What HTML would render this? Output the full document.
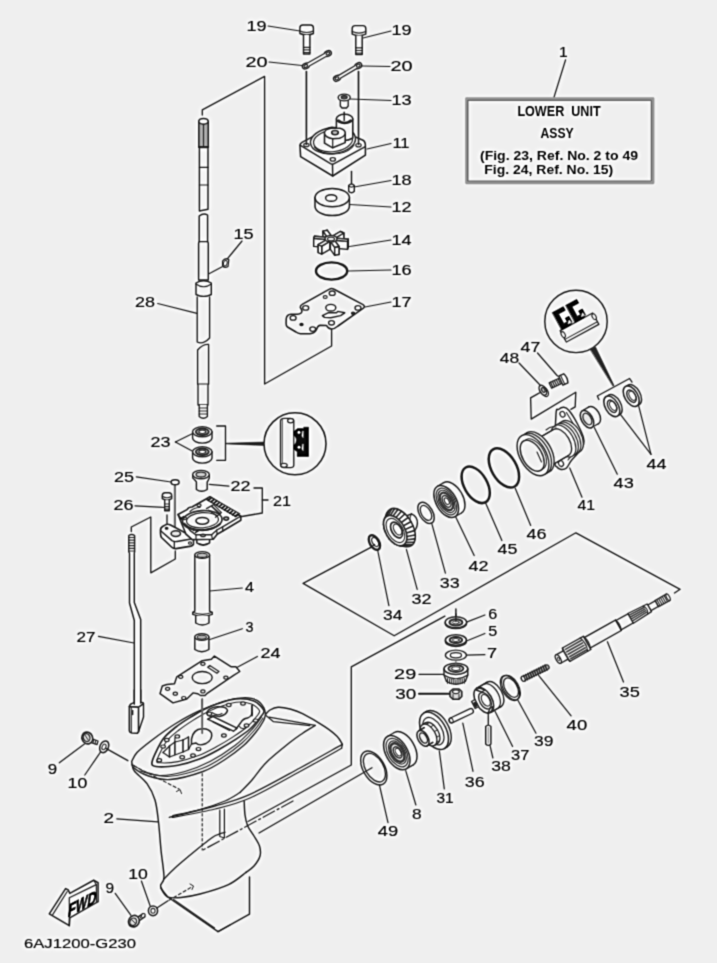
<!DOCTYPE html>
<html><head><meta charset="utf-8"><title>Lower Unit Assy</title>
<style>
html,body{margin:0;padding:0;background:#efefef;}
body{width:717px;height:963px;overflow:hidden;}
svg{display:block;font-family:"Liberation Sans",sans-serif;}
</style></head><body>
<svg width="717" height="963" viewBox="0 0 717 963" stroke-linecap="round" stroke-linejoin="round">
<defs><filter id="soft" filterUnits="userSpaceOnUse" x="-30" y="-30" width="777" height="1023" color-interpolation-filters="sRGB">
<feConvolveMatrix in="SourceGraphic" order="3" kernelMatrix="0.090 0.3 0.090 0.3 1 0.3 0.090 0.3 0.090" divisor="2.560" edgeMode="duplicate" preserveAlpha="true" result="b1"/>
<feGaussianBlur in="b1" stdDeviation="2" result="b2"/>
<feComposite in="b1" in2="b2" operator="arithmetic" k1="0" k2="1.35" k3="-0.35" k4="0"/>
</filter></defs>
<g filter="url(#soft)">
<rect x="-30" y="-30" width="777" height="1023" fill="#efefef"/>
<!-- labels -->
<text x="246.4" y="31" font-size="14" textLength="20.1" lengthAdjust="spacingAndGlyphs" fill="#222" stroke="#222" stroke-width="0.15">19</text>
<text x="391.4" y="35" font-size="14" textLength="20.1" lengthAdjust="spacingAndGlyphs" fill="#222" stroke="#222" stroke-width="0.15">19</text>
<text x="245.4" y="66.5" font-size="14" textLength="22.1" lengthAdjust="spacingAndGlyphs" fill="#222" stroke="#222" stroke-width="0.15">20</text>
<text x="390.4" y="71" font-size="14" textLength="22.1" lengthAdjust="spacingAndGlyphs" fill="#222" stroke="#222" stroke-width="0.15">20</text>
<text x="391.4" y="105" font-size="14" textLength="20.1" lengthAdjust="spacingAndGlyphs" fill="#222" stroke="#222" stroke-width="0.15">13</text>
<text x="392.4" y="148" font-size="14" textLength="17.2" lengthAdjust="spacingAndGlyphs" fill="#222" stroke="#222" stroke-width="0.15">11</text>
<text x="391.4" y="185" font-size="14" textLength="20.1" lengthAdjust="spacingAndGlyphs" fill="#222" stroke="#222" stroke-width="0.15">18</text>
<text x="391.4" y="211.5" font-size="14" textLength="20.1" lengthAdjust="spacingAndGlyphs" fill="#222" stroke="#222" stroke-width="0.15">12</text>
<text x="391.4" y="245" font-size="14" textLength="20.1" lengthAdjust="spacingAndGlyphs" fill="#222" stroke="#222" stroke-width="0.15">14</text>
<text x="391.4" y="274.5" font-size="14" textLength="20.1" lengthAdjust="spacingAndGlyphs" fill="#222" stroke="#222" stroke-width="0.15">16</text>
<text x="391.4" y="306.5" font-size="14" textLength="20.1" lengthAdjust="spacingAndGlyphs" fill="#222" stroke="#222" stroke-width="0.15">17</text>
<text x="233.4" y="239" font-size="14" textLength="20.1" lengthAdjust="spacingAndGlyphs" fill="#222" stroke="#222" stroke-width="0.15">15</text>
<text x="135" y="307" font-size="14" textLength="20" lengthAdjust="spacingAndGlyphs" fill="#222" stroke="#222" stroke-width="0.15">28</text>
<text x="559.1" y="56.5" font-size="14" textLength="8.7" lengthAdjust="spacingAndGlyphs" fill="#222" stroke="#222" stroke-width="0.15">1</text>
<text x="150.5" y="446.8" font-size="14" textLength="20" lengthAdjust="spacingAndGlyphs" fill="#222" stroke="#222" stroke-width="0.15">23</text>
<text x="114" y="481.5" font-size="14" textLength="20" lengthAdjust="spacingAndGlyphs" fill="#222" stroke="#222" stroke-width="0.15">25</text>
<text x="113.5" y="510.2" font-size="14" textLength="20" lengthAdjust="spacingAndGlyphs" fill="#222" stroke="#222" stroke-width="0.15">26</text>
<text x="230.5" y="491.3" font-size="14" textLength="20" lengthAdjust="spacingAndGlyphs" fill="#222" stroke="#222" stroke-width="0.15">22</text>
<text x="273" y="505.5" font-size="14" textLength="18" lengthAdjust="spacingAndGlyphs" fill="#222" stroke="#222" stroke-width="0.15">21</text>
<text x="245" y="592" font-size="14" textLength="9" lengthAdjust="spacingAndGlyphs" fill="#222" stroke="#222" stroke-width="0.15">4</text>
<text x="245.5" y="632" font-size="14" textLength="8" lengthAdjust="spacingAndGlyphs" fill="#222" stroke="#222" stroke-width="0.15">3</text>
<text x="260.5" y="658" font-size="14" textLength="20" lengthAdjust="spacingAndGlyphs" fill="#222" stroke="#222" stroke-width="0.15">24</text>
<text x="76.5" y="642" font-size="14" textLength="19" lengthAdjust="spacingAndGlyphs" fill="#222" stroke="#222" stroke-width="0.15">27</text>
<text x="47.8" y="773.6" font-size="14" textLength="9.4" lengthAdjust="spacingAndGlyphs" fill="#222" stroke="#222" stroke-width="0.15">9</text>
<text x="67.6" y="788" font-size="14" textLength="19.7" lengthAdjust="spacingAndGlyphs" fill="#222" stroke="#222" stroke-width="0.15">10</text>
<text x="103.6" y="823" font-size="14" textLength="10.5" lengthAdjust="spacingAndGlyphs" fill="#222" stroke="#222" stroke-width="0.15">2</text>
<text x="128.2" y="879.4" font-size="14" textLength="19.6" lengthAdjust="spacingAndGlyphs" fill="#222" stroke="#222" stroke-width="0.15">10</text>
<text x="105.6" y="893.2" font-size="14" textLength="8.6" lengthAdjust="spacingAndGlyphs" fill="#222" stroke="#222" stroke-width="0.15">9</text>
<text x="520.6" y="351.5" font-size="14" textLength="19.8" lengthAdjust="spacingAndGlyphs" fill="#222" stroke="#222" stroke-width="0.15">47</text>
<text x="499.8" y="363" font-size="14" textLength="19.4" lengthAdjust="spacingAndGlyphs" fill="#222" stroke="#222" stroke-width="0.15">48</text>
<text x="646.4" y="468.7" font-size="14" textLength="20" lengthAdjust="spacingAndGlyphs" fill="#222" stroke="#222" stroke-width="0.15">44</text>
<text x="613.6" y="488" font-size="14" textLength="20.2" lengthAdjust="spacingAndGlyphs" fill="#222" stroke="#222" stroke-width="0.15">43</text>
<text x="577.4" y="509.5" font-size="14" textLength="17.6" lengthAdjust="spacingAndGlyphs" fill="#222" stroke="#222" stroke-width="0.15">41</text>
<text x="526.5" y="538.5" font-size="14" textLength="20" lengthAdjust="spacingAndGlyphs" fill="#222" stroke="#222" stroke-width="0.15">46</text>
<text x="497.6" y="554.3" font-size="14" textLength="19.8" lengthAdjust="spacingAndGlyphs" fill="#222" stroke="#222" stroke-width="0.15">45</text>
<text x="468.5" y="570.6" font-size="14" textLength="20" lengthAdjust="spacingAndGlyphs" fill="#222" stroke="#222" stroke-width="0.15">42</text>
<text x="439.8" y="587.7" font-size="14" textLength="19.8" lengthAdjust="spacingAndGlyphs" fill="#222" stroke="#222" stroke-width="0.15">33</text>
<text x="411.5" y="603.7" font-size="14" textLength="20" lengthAdjust="spacingAndGlyphs" fill="#222" stroke="#222" stroke-width="0.15">32</text>
<text x="383" y="619.8" font-size="14" textLength="19.4" lengthAdjust="spacingAndGlyphs" fill="#222" stroke="#222" stroke-width="0.15">34</text>
<text x="488.2" y="618.6" font-size="14" textLength="9" lengthAdjust="spacingAndGlyphs" fill="#222" stroke="#222" stroke-width="0.15">6</text>
<text x="488.2" y="636.4" font-size="14" textLength="9" lengthAdjust="spacingAndGlyphs" fill="#222" stroke="#222" stroke-width="0.15">5</text>
<text x="487.1" y="658" font-size="14" textLength="10.1" lengthAdjust="spacingAndGlyphs" fill="#222" stroke="#222" stroke-width="0.15">7</text>
<text x="394.1" y="679.3" font-size="14" textLength="22.1" lengthAdjust="spacingAndGlyphs" fill="#222" stroke="#222" stroke-width="0.15">29</text>
<text x="395.2" y="698.9" font-size="14" textLength="21" lengthAdjust="spacingAndGlyphs" fill="#222" stroke="#222" stroke-width="0.15">30</text>
<text x="619.6" y="696.5" font-size="14" textLength="20.2" lengthAdjust="spacingAndGlyphs" fill="#222" stroke="#222" stroke-width="0.15">35</text>
<text x="566.6" y="729.8" font-size="14" textLength="20.6" lengthAdjust="spacingAndGlyphs" fill="#222" stroke="#222" stroke-width="0.15">40</text>
<text x="534" y="746.4" font-size="14" textLength="19.4" lengthAdjust="spacingAndGlyphs" fill="#222" stroke="#222" stroke-width="0.15">39</text>
<text x="511.1" y="759.6" font-size="14" textLength="18.4" lengthAdjust="spacingAndGlyphs" fill="#222" stroke="#222" stroke-width="0.15">37</text>
<text x="491.2" y="770.7" font-size="14" textLength="19.6" lengthAdjust="spacingAndGlyphs" fill="#222" stroke="#222" stroke-width="0.15">38</text>
<text x="464.8" y="786.5" font-size="14" textLength="19.8" lengthAdjust="spacingAndGlyphs" fill="#222" stroke="#222" stroke-width="0.15">36</text>
<text x="436.4" y="802.6" font-size="14" textLength="17.2" lengthAdjust="spacingAndGlyphs" fill="#222" stroke="#222" stroke-width="0.15">31</text>
<text x="412" y="818.8" font-size="14" textLength="9.6" lengthAdjust="spacingAndGlyphs" fill="#222" stroke="#222" stroke-width="0.15">8</text>
<text x="377.8" y="835.7" font-size="14" textLength="20.4" lengthAdjust="spacingAndGlyphs" fill="#222" stroke="#222" stroke-width="0.15">49</text>
<text x="24" y="947.5" font-size="13.3" textLength="112" lengthAdjust="spacingAndGlyphs" fill="#222" stroke="#222" stroke-width="0.15">6AJ1200-G230</text>
<!-- leaders -->
<line x1="268" y1="26" x2="300" y2="31" stroke="#333333" stroke-width="1.21" />
<line x1="363" y1="38" x2="391" y2="31" stroke="#333333" stroke-width="1.21" />
<line x1="269" y1="62" x2="302" y2="65.5" stroke="#333333" stroke-width="1.21" />
<line x1="362" y1="66" x2="390" y2="66.5" stroke="#333333" stroke-width="1.21" />
<line x1="350" y1="99" x2="391" y2="100.5" stroke="#333333" stroke-width="1.21" />
<line x1="367" y1="149" x2="391" y2="143.5" stroke="#333333" stroke-width="1.21" />
<line x1="354" y1="187" x2="391" y2="180.5" stroke="#333333" stroke-width="1.21" />
<line x1="349.6" y1="204.5" x2="391" y2="207" stroke="#333333" stroke-width="1.21" />
<line x1="349.5" y1="246.5" x2="391" y2="240" stroke="#333333" stroke-width="1.21" />
<line x1="348" y1="271" x2="391" y2="270" stroke="#333333" stroke-width="1.21" />
<line x1="365" y1="307" x2="391" y2="302" stroke="#333333" stroke-width="1.21" />
<line x1="242" y1="241" x2="226.8" y2="259.5" stroke="#333333" stroke-width="1.21" />
<line x1="222.2" y1="266.8" x2="209" y2="273.7" stroke="#333333" stroke-width="1.21" />
<line x1="157.7" y1="303.5" x2="197" y2="313.3" stroke="#333333" stroke-width="1.21" />
<line x1="565.6" y1="59.8" x2="554" y2="97.3" stroke="#333333" stroke-width="1.21" />
<line x1="175.4" y1="442" x2="192.2" y2="433.8" stroke="#333333" stroke-width="1.21" />
<line x1="175.4" y1="442" x2="192.2" y2="451" stroke="#333333" stroke-width="1.21" />
<line x1="136.3" y1="476.8" x2="171" y2="482" stroke="#333333" stroke-width="1.21" />
<line x1="134.9" y1="505.8" x2="163.6" y2="507.4" stroke="#333333" stroke-width="1.21" />
<line x1="209.3" y1="484.3" x2="228.9" y2="486.2" stroke="#333333" stroke-width="1.21" />
<line x1="209.5" y1="591" x2="242.3" y2="588" stroke="#333333" stroke-width="1.21" />
<line x1="209" y1="639.8" x2="242.3" y2="628.7" stroke="#333333" stroke-width="1.21" />
<line x1="237.3" y1="667.2" x2="257.4" y2="656.5" stroke="#333333" stroke-width="1.21" />
<line x1="98.5" y1="636.4" x2="134" y2="643" stroke="#333333" stroke-width="1.21" />
<line x1="59.3" y1="762.8" x2="84.4" y2="744" stroke="#333333" stroke-width="1.21" />
<line x1="84.8" y1="775" x2="101" y2="751.3" stroke="#333333" stroke-width="1.21" />
<line x1="116.8" y1="818.8" x2="158" y2="821.8" stroke="#333333" stroke-width="1.21" />
<line x1="141.4" y1="881" x2="150.2" y2="906" stroke="#333333" stroke-width="1.21" />
<line x1="115.2" y1="893.3" x2="131" y2="915.3" stroke="#333333" stroke-width="1.21" />
<line x1="537.5" y1="353" x2="557.5" y2="376" stroke="#333333" stroke-width="1.21" />
<line x1="519" y1="363" x2="540" y2="385" stroke="#333333" stroke-width="1.21" />
<line x1="651" y1="454.3" x2="620.4" y2="414.4" stroke="#333333" stroke-width="1.21" />
<line x1="651" y1="454.3" x2="638.1" y2="403.6" stroke="#333333" stroke-width="1.21" />
<line x1="594.3" y1="427.6" x2="617.3" y2="474.2" stroke="#333333" stroke-width="1.21" />
<line x1="569.7" y1="468" x2="582" y2="497.2" stroke="#333333" stroke-width="1.21" />
<line x1="515.2" y1="488.2" x2="530.7" y2="525.4" stroke="#333333" stroke-width="1.21" />
<line x1="485.5" y1="502.8" x2="501.9" y2="540.5" stroke="#333333" stroke-width="1.21" />
<line x1="455.5" y1="516.5" x2="474.2" y2="555.5" stroke="#333333" stroke-width="1.21" />
<line x1="431.6" y1="522.9" x2="445.4" y2="573.1" stroke="#333333" stroke-width="1.21" />
<line x1="406.4" y1="549.3" x2="417.2" y2="589.4" stroke="#333333" stroke-width="1.21" />
<line x1="377.1" y1="547.5" x2="388.9" y2="605.7" stroke="#333333" stroke-width="1.21" />
<line x1="465.9" y1="622.4" x2="484.9" y2="615" stroke="#333333" stroke-width="1.21" />
<line x1="465.9" y1="641.3" x2="484.9" y2="633.5" stroke="#333333" stroke-width="1.21" />
<line x1="465.9" y1="655.2" x2="484.9" y2="654.7" stroke="#333333" stroke-width="1.21" />
<line x1="419" y1="674.4" x2="443.6" y2="674.4" stroke="#333333" stroke-width="1.21" />
<line x1="607.4" y1="641.7" x2="623.5" y2="682" stroke="#333333" stroke-width="1.21" />
<line x1="537.8" y1="674.4" x2="571.1" y2="715.9" stroke="#333333" stroke-width="1.21" />
<line x1="517.5" y1="699.5" x2="536" y2="733.2" stroke="#333333" stroke-width="1.21" />
<line x1="495" y1="711.3" x2="512.6" y2="746.4" stroke="#333333" stroke-width="1.21" />
<line x1="490" y1="745.5" x2="492.9" y2="758" stroke="#333333" stroke-width="1.21" />
<line x1="462.8" y1="723" x2="473" y2="771.3" stroke="#333333" stroke-width="1.21" />
<line x1="439.3" y1="750.8" x2="444.3" y2="788.9" stroke="#333333" stroke-width="1.21" />
<line x1="405.7" y1="770.7" x2="415.9" y2="805" stroke="#333333" stroke-width="1.21" />
<line x1="379.3" y1="784.5" x2="388" y2="822.6" stroke="#333333" stroke-width="1.21" />
<line x1="419" y1="693.8" x2="451" y2="693.8" stroke="#333333" stroke-width="1.98" />
<!-- guides -->
<path d="M202.3 115 L202.3 109.9 L264.6 76.4 L264.6 384 L331.6 346 L331.6 327" stroke="#333333" stroke-width="1.32" fill="none" />
<path d="M370.4 547.6 L303.1 583.4 L394.2 635.8 L575.9 532.8 L680.1 589.3 L674.5 593" stroke="#333333" stroke-width="1.32" fill="none" />
<path d="M444.9 616.1 L351.3 666.8 L351.3 765 L248 821.5" stroke="#333333" stroke-width="1.32" fill="none" />
<line x1="372" y1="767.8" x2="259" y2="833" stroke="#333333" stroke-width="1.32" />
<line x1="293" y1="801" x2="203" y2="850" stroke="#333333" stroke-width="1.21" stroke-dasharray="13 3 2 3"/>
<path d="M216.7 426 L225.5 426 L225.5 460.3 L216.7 460.3" stroke="#333333" stroke-width="1.32" fill="none" />
<path d="M226 443.2 L264 442 L264 445.6 L226 443.9 Z" stroke="#333333" stroke-width="0.55" fill="#333333" />
<path d="M254 488 L262.3 488 L262.3 513 L238.9 517" stroke="#333333" stroke-width="1.32" fill="none" />
<line x1="262.3" y1="500" x2="268" y2="500" stroke="#333333" stroke-width="1.32" />
<path d="M131.3 531.5 L131.3 527 L150.8 517 L150.8 572.8 L175.3 559 L175.3 551" stroke="#333333" stroke-width="1.32" fill="none" />
<line x1="174.9" y1="485" x2="174.9" y2="533.5" stroke="#777" stroke-width="2.2" />
<line x1="167" y1="515" x2="167" y2="527" stroke="#333333" stroke-width="1.32" />
<path d="M598.9 399.5 L597.3 396 L629.6 378.5 L632 382.2" stroke="#333333" stroke-width="1.32" fill="none" />
<path d="M590.5 349.5 L595.5 347 L614 385.5 L613.2 385.9 Z" stroke="#333333" stroke-width="0.66" fill="#333333" />
<path d="M539.5 392.9 L530.6 397.9 L531.2 419.1 L575.8 392.3 L575.2 406.9 L570.8 409.3" stroke="#333333" stroke-width="1.32" fill="none" />
<!-- 19 bolts, 20 straps -->
<path d="M299.9 33.5 L299.9 28 Q299.9 25 302.9 25 L310.4 25 Q313.4 25 313.4 28 L313.4 33.5 Q306.7 36.5 299.9 33.5 Z" stroke="#333333" stroke-width="1.43" fill="#efefef" />
<path d="M299.9 31 Q306.7 34 313.4 31" stroke="#333333" stroke-width="1.1" fill="none" />
<path d="M303.5 35 L303.5 54 L309.9 54 L309.9 35" stroke="#333333" stroke-width="1.43" fill="#efefef" />
<line x1="303.5" y1="52.5" x2="309.9" y2="52.5" stroke="#333333" stroke-width="1.21" />
<line x1="303.5" y1="49.9" x2="309.9" y2="49.9" stroke="#333333" stroke-width="1.21" />
<line x1="303.5" y1="47.3" x2="309.9" y2="47.3" stroke="#333333" stroke-width="1.21" />
<path d="M352.2 34.1 L352.2 28.6 Q352.2 25.6 355.2 25.6 L362.8 25.6 Q365.8 25.6 365.8 28.6 L365.8 34.1 Q359 37.1 352.2 34.1 Z" stroke="#333333" stroke-width="1.43" fill="#efefef" />
<path d="M352.2 31.6 Q359 34.6 365.8 31.6" stroke="#333333" stroke-width="1.1" fill="none" />
<path d="M355.8 35.6 L355.8 54.6 L362.2 54.6 L362.2 35.6" stroke="#333333" stroke-width="1.43" fill="#efefef" />
<line x1="355.8" y1="53.1" x2="362.2" y2="53.1" stroke="#333333" stroke-width="1.21" />
<line x1="355.8" y1="50.5" x2="362.2" y2="50.5" stroke="#333333" stroke-width="1.21" />
<line x1="355.8" y1="47.9" x2="362.2" y2="47.9" stroke="#333333" stroke-width="1.21" />
<line x1="305.8" y1="66" x2="327.9" y2="53.5" stroke="#333333" stroke-width="4.6" stroke-linecap="round"/>
<ellipse cx="305.8" cy="66" rx="3.6" ry="2.7" stroke="#333333" stroke-width="1.43" fill="#efefef" transform="rotate(-28 305.8 66)" />
<ellipse cx="327.9" cy="53.5" rx="3.6" ry="2.7" stroke="#333333" stroke-width="1.43" fill="#efefef" transform="rotate(-28 327.9 53.5)" />
<line x1="305.8" y1="66" x2="327.9" y2="53.5" stroke="#efefef" stroke-width="2.1" stroke-linecap="round"/>
<ellipse cx="305.8" cy="66" rx="1.9" ry="1.3" stroke="#333333" stroke-width="1.21" fill="none" transform="rotate(-28 305.8 66)" />
<ellipse cx="327.9" cy="53.5" rx="1.9" ry="1.3" stroke="#333333" stroke-width="1.21" fill="none" transform="rotate(-28 327.9 53.5)" />
<line x1="337" y1="78.3" x2="358.3" y2="65.7" stroke="#333333" stroke-width="4.6" stroke-linecap="round"/>
<ellipse cx="337" cy="78.3" rx="3.6" ry="2.7" stroke="#333333" stroke-width="1.43" fill="#efefef" transform="rotate(-28 337 78.3)" />
<ellipse cx="358.3" cy="65.7" rx="3.6" ry="2.7" stroke="#333333" stroke-width="1.43" fill="#efefef" transform="rotate(-28 358.3 65.7)" />
<line x1="337" y1="78.3" x2="358.3" y2="65.7" stroke="#efefef" stroke-width="2.1" stroke-linecap="round"/>
<ellipse cx="337" cy="78.3" rx="1.9" ry="1.3" stroke="#333333" stroke-width="1.21" fill="none" transform="rotate(-28 337 78.3)" />
<ellipse cx="358.3" cy="65.7" rx="1.9" ry="1.3" stroke="#333333" stroke-width="1.21" fill="none" transform="rotate(-28 358.3 65.7)" />
<!-- 13 bushing -->
<path d="M340.3 100 L340.3 106 L342 108 L346.5 108 L348.2 106 L348.2 100" stroke="#333333" stroke-width="1.32" fill="#efefef" />
<ellipse cx="344.2" cy="97.5" rx="6" ry="3.4" stroke="#333333" stroke-width="1.43" fill="#efefef" />
<ellipse cx="344.2" cy="97.2" rx="3" ry="1.6" stroke="#333333" stroke-width="1.21" fill="#555" />
<!-- 11 housing -->
<path d="M300 146 Q299.8 143.6 302 142.4 L329 128 Q332 126.5 335 128 L363 140.2 Q365.6 141.6 365.4 146.4 L365.4 155.2 L332.7 176 L300.6 156.6 Z" stroke="#333333" stroke-width="1.54" fill="#efefef" />
<path d="M300 145.2 L330.5 163.6 Q332.3 164.6 334.2 163.6 L365.3 146.6" stroke="#333333" stroke-width="1.43" fill="none" />
<line x1="332.5" y1="164.4" x2="332.7" y2="176" stroke="#333333" stroke-width="1.43" />
<ellipse cx="333" cy="140.6" rx="22.6" ry="13" stroke="#333333" stroke-width="1.43" fill="#efefef" transform="rotate(-7 333 140.6)" />
<ellipse cx="333" cy="140.8" rx="19.6" ry="10.8" stroke="#333333" stroke-width="1.21" fill="none" transform="rotate(-7 333 140.8)" />
<path d="M314.5 147 Q322 155.5 339 153.5 Q350 151.5 354 145" stroke="#333333" stroke-width="1.21" fill="none" />
<path d="M336.4 119 L336.4 138 Q344.5 143 352.8 138 L352.8 119" stroke="#333333" stroke-width="1.54" fill="#efefef" />
<ellipse cx="344.6" cy="118.8" rx="8.2" ry="4.6" stroke="#333333" stroke-width="1.54" fill="#efefef" />
<path d="M338.6 120.2 Q344.6 125.2 350.7 120.2" stroke="#333333" stroke-width="1.76" fill="none" />
<line x1="344.2" y1="112.3" x2="344.2" y2="120.5" stroke="#333333" stroke-width="1.43" />
<path d="M324.5 133.5 L324.5 143.2 L332.7 147.8 L345.2 142.6 L345.2 133 Z" stroke="#333333" stroke-width="1.54" fill="#efefef" />
<line x1="332.7" y1="138.6" x2="332.7" y2="147.8" stroke="#333333" stroke-width="1.21" />
<path d="M324.5 133.5 Q324 129.6 331 128.4 L340 128.2 Q345.4 129.5 345.2 133.2 Q345 136.5 339.5 138.2 L332.7 138.8 Q325.5 137.8 324.5 133.5 Z" stroke="#333333" stroke-width="1.43" fill="#efefef" />
<ellipse cx="335" cy="132.6" rx="3.3" ry="2.1" stroke="#333333" stroke-width="1.54" fill="#bbb" />
<ellipse cx="306.4" cy="145" rx="2.7" ry="1.7" stroke="#333333" stroke-width="1.21" fill="#efefef" />
<ellipse cx="358.5" cy="145.2" rx="2.7" ry="1.7" stroke="#333333" stroke-width="1.21" fill="#efefef" />
<ellipse cx="332.8" cy="159.4" rx="2.6" ry="1.7" stroke="#333333" stroke-width="1.32" fill="#efefef" />
<line x1="306.4" y1="71.5" x2="306.4" y2="144.5" stroke="#333333" stroke-width="1.65" />
<line x1="358.5" y1="71.5" x2="358.5" y2="144.5" stroke="#333333" stroke-width="1.65" />
<!-- 18 pin -->
<line x1="351.5" y1="171.5" x2="351.5" y2="183.5" stroke="#333333" stroke-width="1.43" />
<path d="M348.7 185.5 L348.7 191.3 Q351.5 194.2 354.3 191.3 L354.3 185.5 Q351.5 182.4 348.7 185.5 Z" stroke="#333333" stroke-width="1.43" fill="#efefef" />
<path d="M348.7 185.8 Q351.5 188.4 354.3 185.8" stroke="#333333" stroke-width="1.1" fill="none" />
<!-- 12 insert -->
<path d="M315 197.6 L315 206.2 A17.2 9.4 0 0 0 349.4 206.2 L349.4 197.6" stroke="#333333" stroke-width="1.54" fill="#efefef" />
<ellipse cx="332.2" cy="197.6" rx="17.2" ry="9.2" stroke="#333333" stroke-width="1.54" fill="#efefef" />
<ellipse cx="331.2" cy="198" rx="5.6" ry="3.3" stroke="#333333" stroke-width="1.43" fill="none" />
<!-- 14 impeller -->
<path d="M325 238.8 L325 246.8 Q331 250.3 337 246.8 L337 238.8" stroke="#333333" stroke-width="1.32" fill="#efefef" />
<path d="M327.3 230.3 L323 231.1 L323 239.1 L327.3 238.3 Z" stroke="#333333" stroke-width="1.43" fill="#efefef" />
<path d="M331.6 236.3 L327.3 230.3 L327.3 238.3 L331.6 244.3 Z" stroke="#333333" stroke-width="1.43" fill="#efefef" />
<path d="M323 231.1 L327.3 237.1 L327.3 245.1 L323 239.1 Z" stroke="#333333" stroke-width="1.43" fill="#efefef" />
<path d="M327.3 237.1 L331.6 236.3 L331.6 244.3 L327.3 245.1 Z" stroke="#333333" stroke-width="1.43" fill="#efefef" />
<path d="M331.6 236.3 L327.3 230.3 L323 231.1 L327.3 237.1 Z" stroke="#333333" stroke-width="1.43" fill="#efefef" />
<path d="M343.8 233 L340.3 231.5 L340.3 239.5 L343.8 241 Z" stroke="#333333" stroke-width="1.43" fill="#efefef" />
<path d="M340.3 231.5 L332.1 236.3 L332.1 244.3 L340.3 239.5 Z" stroke="#333333" stroke-width="1.43" fill="#efefef" />
<path d="M335.7 237.8 L343.8 233 L343.8 241 L335.7 245.8 Z" stroke="#333333" stroke-width="1.43" fill="#efefef" />
<path d="M332.1 236.3 L335.7 237.8 L335.7 245.8 L332.1 244.3 Z" stroke="#333333" stroke-width="1.43" fill="#efefef" />
<path d="M335.7 237.8 L343.8 233 L340.3 231.5 L332.1 236.3 Z" stroke="#333333" stroke-width="1.43" fill="#efefef" />
<path d="M327 237.3 L314.5 236.2 L314.5 244.2 L327 245.3 Z" stroke="#333333" stroke-width="1.43" fill="#efefef" />
<path d="M314.5 236.2 L313.7 238.4 L313.7 246.4 L314.5 244.2 Z" stroke="#333333" stroke-width="1.43" fill="#efefef" />
<path d="M326.2 239.5 L327 237.3 L327 245.3 L326.2 247.5 Z" stroke="#333333" stroke-width="1.43" fill="#efefef" />
<path d="M313.7 238.4 L326.2 239.5 L326.2 247.5 L313.7 246.4 Z" stroke="#333333" stroke-width="1.43" fill="#efefef" />
<path d="M327 237.3 L314.5 236.2 L313.7 238.4 L326.2 239.5 Z" stroke="#333333" stroke-width="1.43" fill="#efefef" />
<path d="M348.3 239.2 L335.8 238.1 L335.8 246.1 L348.3 247.2 Z" stroke="#333333" stroke-width="1.43" fill="#efefef" />
<path d="M335.8 238.1 L335 240.3 L335 248.3 L335.8 246.1 Z" stroke="#333333" stroke-width="1.43" fill="#efefef" />
<path d="M347.5 241.4 L348.3 239.2 L348.3 247.2 L347.5 249.4 Z" stroke="#333333" stroke-width="1.43" fill="#efefef" />
<path d="M335 240.3 L347.5 241.4 L347.5 249.4 L335 248.3 Z" stroke="#333333" stroke-width="1.43" fill="#efefef" />
<path d="M335 240.3 L347.5 241.4 L348.3 239.2 L335.8 238.1 Z" stroke="#333333" stroke-width="1.43" fill="#efefef" />
<path d="M329.9 241.3 L326.3 239.8 L326.3 247.8 L329.9 249.3 Z" stroke="#333333" stroke-width="1.43" fill="#efefef" />
<path d="M326.3 239.8 L318.2 244.6 L318.2 252.6 L326.3 247.8 Z" stroke="#333333" stroke-width="1.43" fill="#efefef" />
<path d="M321.7 246.1 L329.9 241.3 L329.9 249.3 L321.7 254.1 Z" stroke="#333333" stroke-width="1.43" fill="#efefef" />
<path d="M318.2 244.6 L321.7 246.1 L321.7 254.1 L318.2 252.6 Z" stroke="#333333" stroke-width="1.43" fill="#efefef" />
<path d="M326.3 239.8 L318.2 244.6 L321.7 246.1 L329.9 241.3 Z" stroke="#333333" stroke-width="1.43" fill="#efefef" />
<path d="M334.7 240.5 L330.4 241.3 L330.4 249.3 L334.7 248.5 Z" stroke="#333333" stroke-width="1.43" fill="#efefef" />
<path d="M339 246.5 L334.7 240.5 L334.7 248.5 L339 254.5 Z" stroke="#333333" stroke-width="1.43" fill="#efefef" />
<path d="M330.4 241.3 L334.7 247.3 L334.7 255.3 L330.4 249.3 Z" stroke="#333333" stroke-width="1.43" fill="#efefef" />
<path d="M334.7 247.3 L339 246.5 L339 254.5 L334.7 255.3 Z" stroke="#333333" stroke-width="1.43" fill="#efefef" />
<path d="M330.4 241.3 L334.7 247.3 L339 246.5 L334.7 240.5 Z" stroke="#333333" stroke-width="1.43" fill="#efefef" />
<ellipse cx="331" cy="238.8" rx="6" ry="3.3" stroke="#333333" stroke-width="1.54" fill="#efefef" />
<ellipse cx="331" cy="239" rx="3.6" ry="1.9" stroke="#333333" stroke-width="1.21" fill="#d8d8d8" />
<!-- 16 o-ring -->
<ellipse cx="331.6" cy="271" rx="15.6" ry="8.6" stroke="#333333" stroke-width="2.42" fill="none" />
<!-- 17 plate -->
<path d="M329.5 289.2 Q331.5 287.8 333.6 289 L363 304.6 Q365.6 306.4 363.4 308.2 L338 326 Q334.5 329 331.5 329 Q328.3 328.8 326.6 325.6 L320 325.3 Q317.5 326 316.5 329.5 Q315 333.2 310 333.7 L300.4 333.7 Q298 333.5 296 332 L287.5 327 Q286 326 286.1 323.5 L286.2 319 Q286.5 314.5 291 314.2 L297.5 314.2 Q301.8 313.8 302 311 Q301.5 309 300.3 307.5 Q300 305.5 302.2 304.4 Z" stroke="#333333" stroke-width="1.54" fill="#efefef" />
<ellipse cx="332.2" cy="293.2" rx="3" ry="2.2" stroke="#333333" stroke-width="1.32" fill="none" />
<ellipse cx="305.7" cy="307.9" rx="3" ry="2.2" stroke="#333333" stroke-width="1.32" fill="none" />
<ellipse cx="358" cy="307.9" rx="3" ry="2.2" stroke="#333333" stroke-width="1.32" fill="none" />
<ellipse cx="293.1" cy="317.9" rx="3" ry="2.2" stroke="#333333" stroke-width="1.32" fill="none" />
<ellipse cx="312.7" cy="329.1" rx="2.9" ry="2.2" stroke="#333333" stroke-width="1.32" fill="none" />
<ellipse cx="331.5" cy="322.8" rx="2.9" ry="2.2" stroke="#333333" stroke-width="1.32" fill="none" />
<ellipse cx="325.2" cy="297" rx="2" ry="1.4" stroke="#333333" stroke-width="1.1" fill="none" />
<ellipse cx="353.1" cy="313.2" rx="1.6" ry="1.2" stroke="#333333" stroke-width="1.1" fill="#444" />
<ellipse cx="301.5" cy="324.6" rx="1.6" ry="1.2" stroke="#333333" stroke-width="1.1" fill="#444" />
<ellipse cx="330.8" cy="307.7" rx="5" ry="3.3" stroke="#333333" stroke-width="1.43" fill="none" />
<path d="M322.4 315.6 L328 312.8 L336.4 312.8 L337.8 311.4 L344.7 312.8 L340.6 315.6 L330.8 317.7 L324.5 317.4 Z" stroke="#333333" stroke-width="1.43" fill="none" />
<!-- 28 drive shaft -->
<path d="M198.9 121.3 L198.9 147 L208.2 147 L208.2 121.3 Z" stroke="#333333" stroke-width="1.65" fill="#cfcfcf" />
<ellipse cx="203.5" cy="121.3" rx="4.7" ry="2.9" stroke="#333333" stroke-width="1.54" fill="#efefef" />
<line x1="203.5" y1="124.5" x2="203.5" y2="146.5" stroke="#333" stroke-width="1.65" />
<line x1="201" y1="124.3" x2="201" y2="146.5" stroke="#777" stroke-width="0.88" />
<line x1="206" y1="124.3" x2="206" y2="146.5" stroke="#777" stroke-width="0.88" />
<line x1="198.9" y1="147" x2="208.2" y2="147" stroke="#333333" stroke-width="1.98" />
<path d="M199.4 147.5 L199.4 211 L208 209.3 L208 147.5 Z" stroke="#333333" stroke-width="1.43" fill="#efefef" />
<line x1="199.4" y1="167.4" x2="208" y2="167.4" stroke="#333333" stroke-width="1.21" />
<line x1="199.4" y1="185" x2="208" y2="185" stroke="#333333" stroke-width="1.21" />
<path d="M199.2 216 Q203.4 212.5 207.6 215 L207.6 241.7 L208.3 243 L208.3 280 L198.6 280 L198.6 243 L199.2 241.7 Z" stroke="#333333" stroke-width="1.43" fill="#efefef" />
<line x1="199.2" y1="241.7" x2="207.6" y2="241.7" stroke="#333333" stroke-width="1.21" />
<path d="M196 283 L196 294.5 Q203.6 298.5 211.3 294.5 L211.3 283 Q203.6 278.5 196 283 Z" stroke="#333333" stroke-width="1.43" fill="#efefef" />
<path d="M196 284 Q203.6 289.5 211.3 284" stroke="#333333" stroke-width="1.21" fill="none" />
<path d="M197.2 297 L197.2 342 Q203 345 209.6 338 L209.6 297" stroke="#333333" stroke-width="1.32" fill="#efefef" />
<path d="M197.6 350 Q203 344 208.6 344.5 L208.6 384 L208 385 L208 405 L198 405 L198 385 L197.6 384 Z" stroke="#333333" stroke-width="1.32" fill="#efefef" />
<line x1="197.6" y1="384" x2="208.6" y2="384" stroke="#333333" stroke-width="1.21" />
<path d="M199.2 405 L199.2 416.5 Q203.3 420 207.4 416.5 L207.4 405" stroke="#333333" stroke-width="1.32" fill="#efefef" />
<line x1="199.2" y1="408" x2="207.4" y2="408" stroke="#333333" stroke-width="1.1" />
<line x1="199.2" y1="411" x2="207.4" y2="411" stroke="#333333" stroke-width="1.1" />
<line x1="199.2" y1="414" x2="207.4" y2="414" stroke="#333333" stroke-width="1.1" />
<!-- 15 key -->
<path d="M222.6 261 Q225 257.5 228.8 259.5 L228 266.5 Q225 268.5 222.6 266 Z" stroke="#333333" stroke-width="1.32" fill="#efefef" />
<ellipse cx="225.3" cy="263.2" rx="1.8" ry="2.8" stroke="#333333" stroke-width="0.99" fill="none" transform="rotate(15 225.3 263.2)" />
<!-- 23 bearings -->
<path d="M192.6 431.8 L192.6 438.1 A9.7 5 0 0 0 212 438.1 L212 431.8" stroke="#333333" stroke-width="1.43" fill="#efefef" />
<ellipse cx="202.3" cy="431.8" rx="9.7" ry="5" stroke="#333333" stroke-width="1.43" fill="#efefef" />
<ellipse cx="202.3" cy="431.8" rx="6.6" ry="3.3" stroke="#333" stroke-width="1.76" fill="#999" />
<ellipse cx="202.3" cy="431.8" rx="3.4" ry="1.7" stroke="#333333" stroke-width="1.1" fill="#efefef" />
<path d="M192.6 451.8 L192.6 458.1 A9.7 5 0 0 0 212 458.1 L212 451.8" stroke="#333333" stroke-width="1.43" fill="#efefef" />
<ellipse cx="202.3" cy="451.8" rx="9.7" ry="5" stroke="#333333" stroke-width="1.43" fill="#efefef" />
<ellipse cx="202.3" cy="451.8" rx="6.6" ry="3.3" stroke="#333" stroke-width="1.76" fill="#999" />
<ellipse cx="202.3" cy="451.8" rx="3.4" ry="1.7" stroke="#333333" stroke-width="1.1" fill="#efefef" />
<!-- seal symbol circle (23) -->
<ellipse cx="295" cy="443.8" rx="31" ry="31" stroke="#333333" stroke-width="1.54" fill="#efefef" />
<path d="M280.5 420.5 Q281 418.3 284 418.3 L290.5 418.4 Q293.8 418.8 293.8 421 L293.8 465.5 Q293.5 467.7 290.5 467.7 L284 467.7 Q280.8 467.5 280.5 465 Z" stroke="#333333" stroke-width="1.32" fill="#efefef" />
<line x1="282.3" y1="419.5" x2="282.3" y2="466.5" stroke="#555" stroke-width="0.99" />
<ellipse cx="290.6" cy="420.8" rx="3" ry="2.1" stroke="#333333" stroke-width="1.21" fill="#efefef" />
<ellipse cx="284" cy="465.3" rx="3.2" ry="2" stroke="#333333" stroke-width="1.21" fill="#efefef" />
<path d="M303.9 427.2 L308.5 427.2 L308.5 456.4 L297.2 456.4 L297.2 451.8 L293.9 449.2 L293.9 445.2 Q299.2 440.2 293.9 435.2 L293.9 431.4 L297.6 428.6 L303.9 428.6 Z" stroke="#111" stroke-width="0.55" fill="#111" />
<ellipse cx="298.9" cy="432.4" rx="1.3" ry="1.3" stroke="#efefef" stroke-width="0.22" fill="#efefef" />
<ellipse cx="299" cy="447.3" rx="1.3" ry="1.3" stroke="#efefef" stroke-width="0.22" fill="#efefef" />
<path d="M302.6 431 L303.4 431 L303.2 438 L301.8 436 Z" stroke="#efefef" stroke-width="0.22" fill="#efefef" />
<path d="M302.6 444 L303.4 444 L303.2 451 L301.8 449 Z" stroke="#efefef" stroke-width="0.22" fill="#efefef" />
<!-- 25 o-ring, 26 bolt, 22 bushing -->
<ellipse cx="175.1" cy="482.3" rx="4" ry="2.5" stroke="#333333" stroke-width="1.43" fill="none" />
<path d="M162.3 498.7 L162.3 495.7 Q162.3 492.7 165.3 492.7 L168.7 492.7 Q171.7 492.7 171.7 495.7 L171.7 498.7 Q167 501.7 162.3 498.7 Z" stroke="#333333" stroke-width="1.43" fill="#efefef" />
<path d="M162.3 496.2 Q167 499.2 171.7 496.2" stroke="#333333" stroke-width="1.1" fill="none" />
<path d="M164.7 500.2 L164.7 510.7 L169.3 510.7 L169.3 500.2" stroke="#333333" stroke-width="1.43" fill="#efefef" />
<line x1="164.7" y1="509.2" x2="169.3" y2="509.2" stroke="#333333" stroke-width="1.21" />
<line x1="164.7" y1="506.6" x2="169.3" y2="506.6" stroke="#333333" stroke-width="1.21" />
<line x1="164.7" y1="504" x2="169.3" y2="504" stroke="#333333" stroke-width="1.21" />
<path d="M192.8 475 L192.8 478 Q196 481 196.4 482 L196.4 489.5 Q201.5 493 207.2 489.5 L207.2 482 Q208 481 209.3 478 L209.3 475" stroke="#333333" stroke-width="1.43" fill="#efefef" />
<ellipse cx="201" cy="474.6" rx="8.3" ry="4.2" stroke="#333333" stroke-width="1.43" fill="#efefef" />
<ellipse cx="201" cy="474.6" rx="5" ry="2.4" stroke="#333333" stroke-width="1.32" fill="#c4c4c4" />
<!-- 21 oil seal housing -->
<path d="M160.5 530.5 Q160.3 527.8 163 526.3 L166 524.6 Q168 523.8 170.5 525 L186.5 533.5 L193.5 538.6 L193.5 544.2 Q192 546.5 188 546.6 L176 548.6 Q173.5 548.8 171.5 547 L161.5 537.5 Q160.3 536 160.5 530.5 Z" stroke="#333333" stroke-width="1.65" fill="#efefef" />
<path d="M160.6 530.8 L172 540.6 Q174 542 177 541.5 L192.5 538.8" stroke="#333333" stroke-width="1.43" fill="none" />
<line x1="174.3" y1="541.8" x2="174.3" y2="548.4" stroke="#333333" stroke-width="1.32" />
<ellipse cx="175.8" cy="533.6" rx="4.7" ry="2.8" stroke="#333333" stroke-width="1.54" fill="#dcdcdc" />
<ellipse cx="166.6" cy="528.3" rx="1.3" ry="0.9" stroke="#333333" stroke-width="1.32" fill="#333" />
<ellipse cx="190" cy="543" rx="1.6" ry="1.1" stroke="#333333" stroke-width="1.1" fill="none" />
<path d="M196.8 537 L196.8 542.8 Q203.2 547.4 209.6 542.8 L209.6 537" stroke="#333333" stroke-width="1.54" fill="#efefef" />
<path d="M198.5 543.6 Q203.2 546 208 543.6" stroke="#333333" stroke-width="0.99" fill="none" />
<path d="M178 514.5 L187 509.6 Q188.5 507 192 507 L210 496.8 L240.8 516.2 L240.8 520.2 L222.8 531 L217.2 534.2 L213.2 539.2 L192.2 539.6 L186 534.2 Z" stroke="#333333" stroke-width="1.65" fill="#efefef" />
<path d="M178 514.5 L190.2 530.6 L196 534.8 L211.6 534.8 L216.6 530.2 L222.6 526.8 L240.8 516.2" stroke="#333333" stroke-width="1.43" fill="none" />
<line x1="216.6" y1="530.2" x2="217.2" y2="534.2" stroke="#333333" stroke-width="1.32" />
<line x1="222.6" y1="526.8" x2="222.8" y2="531" stroke="#333333" stroke-width="1.32" />
<line x1="196" y1="534.8" x2="196" y2="539.4" stroke="#333333" stroke-width="1.21" />
<line x1="211.6" y1="534.8" x2="212.4" y2="539.2" stroke="#333333" stroke-width="1.21" />
<path d="M210 496.8 L239.6 513.8 L236 516.6 L206.4 499.4 Z" stroke="#333333" stroke-width="1.32" fill="#efefef" />
<line x1="211" y1="498.1" x2="208.4" y2="500.2" stroke="#222" stroke-width="1.76" />
<line x1="213.7" y1="499.7" x2="211.1" y2="501.8" stroke="#222" stroke-width="1.76" />
<line x1="216.4" y1="501.3" x2="213.8" y2="503.4" stroke="#222" stroke-width="1.76" />
<line x1="219" y1="502.9" x2="216.4" y2="505" stroke="#222" stroke-width="1.76" />
<line x1="221.7" y1="504.5" x2="219.1" y2="506.6" stroke="#222" stroke-width="1.76" />
<line x1="224.4" y1="506.2" x2="221.8" y2="508.3" stroke="#222" stroke-width="1.76" />
<line x1="227.1" y1="507.8" x2="224.5" y2="509.9" stroke="#222" stroke-width="1.76" />
<line x1="229.8" y1="509.4" x2="227.2" y2="511.5" stroke="#222" stroke-width="1.76" />
<line x1="232.4" y1="511" x2="229.8" y2="513.1" stroke="#222" stroke-width="1.76" />
<line x1="235.1" y1="512.6" x2="232.5" y2="514.7" stroke="#222" stroke-width="1.76" />
<line x1="237.8" y1="514.2" x2="235.2" y2="516.3" stroke="#222" stroke-width="1.76" />
<line x1="180.6" y1="518.6" x2="183.6" y2="516.7" stroke="#222" stroke-width="1.65" />
<line x1="182.7" y1="520.6" x2="185.7" y2="518.7" stroke="#222" stroke-width="1.65" />
<line x1="184.9" y1="522.5" x2="187.9" y2="520.6" stroke="#222" stroke-width="1.65" />
<line x1="187" y1="524.5" x2="190" y2="522.6" stroke="#222" stroke-width="1.65" />
<line x1="189.2" y1="526.5" x2="192.2" y2="524.6" stroke="#222" stroke-width="1.65" />
<line x1="191.3" y1="528.5" x2="194.3" y2="526.6" stroke="#222" stroke-width="1.65" />
<line x1="193.5" y1="530.4" x2="196.5" y2="528.5" stroke="#222" stroke-width="1.65" />
<line x1="195.6" y1="532.4" x2="198.6" y2="530.5" stroke="#222" stroke-width="1.65" />
<ellipse cx="202.3" cy="520.4" rx="19.8" ry="9.8" stroke="#333333" stroke-width="1.65" fill="#efefef" transform="rotate(-4 202.3 520.4)" />
<ellipse cx="202.5" cy="520.2" rx="16" ry="7.6" stroke="#333333" stroke-width="1.21" fill="none" transform="rotate(-4 202.5 520.2)" />
<path d="M184 523.5 Q190 530.5 203 530.2 Q214 529.5 220 524" stroke="#333333" stroke-width="1.98" fill="none" />
<ellipse cx="202.3" cy="520.8" rx="6.4" ry="3.4" stroke="#333333" stroke-width="1.54" fill="none" />
<ellipse cx="199" cy="505.2" rx="2.1" ry="1.4" stroke="#333333" stroke-width="1.21" fill="none" />
<ellipse cx="226.2" cy="518.6" rx="2.4" ry="1.6" stroke="#333333" stroke-width="1.54" fill="#bbb" />
<path d="M206.5 508.6 L213.6 504.6 L221.5 512.6 L215.5 517.2" stroke="#333333" stroke-width="1.32" fill="none" />
<line x1="208.5" y1="510.2" x2="217.5" y2="516" stroke="#333333" stroke-width="1.32" />
<line x1="212" y1="506.6" x2="220" y2="514" stroke="#333333" stroke-width="1.76" />
<ellipse cx="184.6" cy="518.3" rx="1.9" ry="1.3" stroke="#333333" stroke-width="1.21" fill="none" />
<ellipse cx="203" cy="535.4" rx="2.4" ry="1.2" stroke="#333333" stroke-width="1.21" fill="none" />
<path d="M190 511.5 Q194 507.5 200 507.5" stroke="#333333" stroke-width="1.21" fill="none" />
<!-- 4 tube -->
<path d="M194.8 555 L194.8 611.2 L192.8 612.3 L192.8 614.4 Q202.5 618.5 212.2 614.4 L212.2 612.3 L209.6 611.2 L209.6 555" stroke="#333333" stroke-width="1.43" fill="#efefef" />
<path d="M195.7 616 L195.7 623 Q202.3 627 209 623 L209 616" stroke="#333333" stroke-width="1.43" fill="#efefef" />
<path d="M192.8 612.3 Q202.5 616.5 212.2 612.3" stroke="#333333" stroke-width="1.1" fill="none" />
<ellipse cx="202.2" cy="555" rx="7.4" ry="3.4" stroke="#333333" stroke-width="1.43" fill="#efefef" />
<ellipse cx="202.2" cy="555.3" rx="5" ry="2.1" stroke="#333333" stroke-width="1.1" fill="#bbb" />
<!-- 3 bushing -->
<path d="M194.8 637 L194.8 649.5 Q201.8 654 208.9 649.5 L208.9 637" stroke="#333333" stroke-width="1.43" fill="#efefef" />
<ellipse cx="201.8" cy="637" rx="7" ry="3.3" stroke="#333333" stroke-width="1.43" fill="#efefef" />
<ellipse cx="201.8" cy="637.2" rx="4.6" ry="2" stroke="#333333" stroke-width="1.1" fill="#aaa" />
<!-- 24 gasket -->
<path d="M214.4 656.1 L231.3 666.8 L235.9 666.8 L239.8 671.5 L233.6 675.3 L206.8 693.7 L205 695.5 L200.5 695.5 L197.6 693.7 L193 692.9 L186.8 699 L173 702.9 L160 693.7 L162.3 686 L166.9 684.5 L174.5 683.7 L176.8 676.8 L202.2 660.7 L211.4 659.2 Z" stroke="#333333" stroke-width="1.43" fill="#efefef" />
<ellipse cx="202.2" cy="677.6" rx="10" ry="6.1" stroke="#333333" stroke-width="1.32" fill="none" />
<path d="M207.7 667.2 L209.8 665.6 L219 671.4 L216.9 673.2 Z" stroke="#333333" stroke-width="1.21" fill="none" />
<ellipse cx="202.9" cy="663.8" rx="2.1" ry="1.5" stroke="#333333" stroke-width="1.21" fill="none" />
<ellipse cx="180.7" cy="676.8" rx="2.1" ry="1.5" stroke="#333333" stroke-width="1.21" fill="none" />
<ellipse cx="225.9" cy="677.6" rx="2.1" ry="1.5" stroke="#333333" stroke-width="1.21" fill="none" />
<ellipse cx="202.9" cy="691.4" rx="2.1" ry="1.5" stroke="#333333" stroke-width="1.21" fill="none" />
<ellipse cx="167.6" cy="688.8" rx="2.1" ry="1.5" stroke="#333333" stroke-width="1.21" fill="none" />
<ellipse cx="175.3" cy="693.7" rx="2.1" ry="1.5" stroke="#333333" stroke-width="1.21" fill="none" />
<ellipse cx="183.8" cy="698" rx="2.1" ry="1.5" stroke="#333333" stroke-width="1.21" fill="none" />
<line x1="202.2" y1="699" x2="202.2" y2="733" stroke="#333333" stroke-width="1.32" />
<!-- 27 shift rod -->
<path d="M128.8 535.5 L128.8 551.8 L129.5 553 L129.5 603 L134.3 620.5 L134.3 703 L140.7 703 L140.7 619.5 L134.3 602.5 L134.3 553 L134.6 551.8 L134.6 535.5 Q131.7 533.5 128.8 535.5 Z" stroke="#333333" stroke-width="1.43" fill="#efefef" />
<line x1="128.8" y1="537.5" x2="134.6" y2="537.5" stroke="#333333" stroke-width="1.21" />
<line x1="128.8" y1="540.2" x2="134.6" y2="540.2" stroke="#333333" stroke-width="1.21" />
<line x1="128.8" y1="542.9" x2="134.6" y2="542.9" stroke="#333333" stroke-width="1.21" />
<line x1="128.8" y1="545.6" x2="134.6" y2="545.6" stroke="#333333" stroke-width="1.21" />
<line x1="128.8" y1="548.3" x2="134.6" y2="548.3" stroke="#333333" stroke-width="1.21" />
<line x1="128.8" y1="551" x2="134.6" y2="551" stroke="#333333" stroke-width="1.21" />
<path d="M129.3 706.5 L129.3 730.5 Q129.5 732.6 132 733 L137.4 733.3 L138.6 731.5 L138.6 707 Z" stroke="#333333" stroke-width="1.54" fill="#efefef" />
<path d="M138.6 707 L143.5 703.6 L143.5 717 L138.6 731.5 Z" stroke="#333333" stroke-width="1.43" fill="#efefef" />
<path d="M129.3 706.5 Q130 703.6 134 702.7 L142 702.4 Q143.5 702.5 143.5 703.6 L138.6 707 Z" stroke="#333333" stroke-width="1.43" fill="#efefef" />
<line x1="131.3" y1="707.5" x2="131.3" y2="732" stroke="#333333" stroke-width="1.1" />
<line x1="132.6" y1="710.5" x2="132.6" y2="714.5" stroke="#333333" stroke-width="1.54" />
<!-- 2 lower unit housing -->
<path d="M132 764 C132.4 765.2 131.9 767.7 134.4 771 C136.9 774.3 143.6 778.9 147 783.7 C150.4 788.5 153.1 793.6 155 800 C156.9 806.4 157.5 813.7 158.5 822 C159.5 830.3 160.1 840.7 161 850 C161.9 859.3 164.1 871.6 164 877.6 C163.9 883.6 160 883.1 160.6 886.3 C161.2 889.5 166.3 895 167.5 896.8" stroke="#333333" stroke-width="1.43" fill="none" />
<path d="M244.2 801 C244.3 803.3 244.4 810.8 245 815 C245.6 819.2 246.2 822.5 247.7 826 C249.2 829.5 252 832.7 254 836 C256 839.3 258.5 842.7 259.5 846 C260.5 849.3 260.9 852.7 260 856 C259.1 859.3 256.3 863.3 254 866 C251.7 868.7 247.3 871.3 246 872.4" stroke="#333333" stroke-width="1.43" fill="none" />
<path d="M160.8 888 C161.9 889.5 164.1 895.2 167.5 896.8 C170.9 898.4 175.6 898 181 897.5 C186.4 897 192.1 896.1 200 894 C207.9 891.9 220.8 888.2 228.5 884.6 C236.2 881 243.1 874.4 246 872.4" stroke="#333333" stroke-width="1.43" fill="none" />
<path d="M164 879 C165.8 877.2 170.6 872 175 868 C179.4 864 185.2 859.2 190.2 855 C195.2 850.8 200.9 846.2 205 843 C209.1 839.8 211.3 837.8 214.6 836 C217.9 834.2 223.3 832.9 225 832.3" stroke="#333333" stroke-width="1.32" fill="none" />
<path d="M168.5 897.5 L218 931.7 L249.5 914.2 L249.5 877" stroke="#333333" stroke-width="1.43" fill="none" />
<line x1="173.5" y1="899.5" x2="214.6" y2="928" stroke="#333333" stroke-width="1.1" />
<line x1="218" y1="931.7" x2="230" y2="925" stroke="#333333" stroke-width="1.1" />
<path d="M219.8 810 L219.8 836.5 L224.4 838 L224.4 809" stroke="#333333" stroke-width="1.21" fill="none" />
<path d="M265.4 714.5 C266.2 713.8 267.9 711.2 270 710 C272.1 708.8 274.7 707.4 278 707.2 C281.3 707 285.9 707.9 290 709 C294.1 710.1 296.8 710.7 302.5 713.6 C308.2 716.5 318.6 722.5 324.3 726.3 C330.1 730.1 334 733.2 337 736.2 C340 739.2 341.5 743 342.4 744.4" stroke="#333333" stroke-width="1.43" fill="none" />
<path d="M342.4 744.4 L341.6 748.2" stroke="#333333" stroke-width="1.32" fill="none" />
<path d="M342.4 744.4 C335.3 748.3 315.5 759.6 300 768 C284.5 776.4 263.7 788.3 249.5 794.6 C235.3 800.9 228.4 802.2 215 806 C201.6 809.8 176.9 815.4 169.3 817.3" stroke="#333333" stroke-width="1.32" fill="none" />
<path d="M341.6 748.2 C334.7 752.1 315.3 763.2 300 771.5 C284.7 779.8 264.2 791.8 250 798 C235.8 804.2 228 805.8 215 809 C202 812.2 179.2 816.1 172 817.5" stroke="#333333" stroke-width="1.21" fill="none" />
<path d="M269 717.2 L315.2 725.4" stroke="#333333" stroke-width="1.21" fill="none" />
<path d="M266 715.5 L273.5 721.7 L309.8 725.6" stroke="#333333" stroke-width="1.21" fill="none" />
<path d="M315.2 725.4 C313.2 726.7 307.2 730.1 303 733 C298.8 735.9 295.9 737.7 289.8 742.6 C283.7 747.5 272.6 756.3 266.3 762.5 C260 768.7 256.4 775 252 780 C247.6 785 242 790.4 240 792.5" stroke="#333333" stroke-width="1.32" fill="none" />
<path d="M240 792.5 C237.5 793.9 231.7 798.2 225 801 C218.3 803.8 208.7 807.1 200 809.5 C191.3 811.9 177.3 814.5 172.8 815.5" stroke="#333333" stroke-width="1.21" fill="none" />
<path d="M131.7 761.5 C132.6 760 133.7 756 137 752.5 C140.3 749 145.5 745 151.8 740.2 C158.1 735.5 167.2 728.8 175 724 C182.8 719.2 189.8 715.1 198.6 711.2 C207.4 707.3 220.3 702.7 228 700.5 C235.7 698.3 240.2 697.8 245 697.8 C249.8 697.8 253.8 698.6 257 700.3 C260.2 702 262.6 705.6 264 708 C265.4 710.4 265.2 713.4 265.4 714.5 L265.4 714.5 C265.1 715.6 265 718.1 263.4 721 C261.8 723.9 259.4 727.9 256 732 C252.7 736.1 248.5 741.2 243.3 745.8 C238.1 750.4 231.7 755.2 225 759.5 C218.3 763.8 212.2 768.2 203 771.5 C193.8 774.8 179.2 778.8 170 779.5 C160.8 780.2 154 777.7 148 775.8 C142 773.9 136.7 770.4 134 768 C131.3 765.6 132.1 762.6 131.7 761.5 Z" stroke="#333333" stroke-width="1.43" fill="#efefef" />
<path d="M133 765 C135.5 766.3 141.8 770.9 148 772.8 C154.2 774.7 161 777 170 776.3 C179 775.6 193 771.8 202 768.5 C211 765.2 217.3 760.8 224 756.5 C230.7 752.2 236.8 747.5 242 743 C247.2 738.5 251.5 733.7 255 729.5 C258.5 725.3 261.7 719.9 263 718" stroke="#333333" stroke-width="1.1" fill="none" />
<path d="M140 771 C143.3 771.8 152.5 775.4 160 775.5 C167.5 775.6 176.7 773.8 185 771.5 C193.3 769.2 201.7 765.8 210 761.5 C218.3 757.2 228 750.8 235 745.5 C242 740.2 247.6 734.2 252 729.5 C256.4 724.8 259.9 719.1 261.5 717" stroke="#333333" stroke-width="1.1" fill="none" />
<path d="M152.3 760.9 C153.4 756.8 159.5 744.2 163.1 739.1 C166.7 734 171.9 730.3 176 727 C180.1 723.7 186.2 719.9 190.3 717.4 C194.4 714.9 198.9 712 203 710 C207.1 708 212.6 705.5 217.5 703.8 C222.4 702.1 230.3 699.3 235.7 698.9 C241.1 698.5 249.6 699.3 253.8 701 C258 702.7 262.7 707.8 263.8 710.1 C264.9 712.4 263.1 713.7 261 716.5 C258.9 719.3 253.8 725.6 250 729 C246.2 732.4 240.5 736.2 235.7 739.4 C230.9 742.5 223.4 747 218 750 C212.6 753 205.4 756.8 199.4 759.1 C193.4 761.4 184.5 764.1 178 765.2 C171.5 766.3 159.8 767.1 155.9 766.5 C152 765.9 151.2 765 152.3 760.9 Z" stroke="#333333" stroke-width="1.65" fill="#efefef" />
<path d="M157 760 C157.9 756.8 163.2 746 166.5 741.5 C169.8 737 175.1 733.1 179 730 C182.9 726.9 188.6 723.1 192.5 720.6 C196.4 718.1 201 715.2 205 713.2 C209 711.2 214.3 708.6 219 707 C223.7 705.4 231.1 702.7 236 702.2 C240.9 701.8 248 702.7 251.5 704 C255 705.3 258.7 708.8 259.5 710.6 C260.3 712.4 258.9 713.5 257 716 C255.1 718.5 250.5 723.9 247 727 C243.5 730.1 238.1 733.6 233.5 736.6 C228.9 739.6 221.8 743.9 216.5 746.8 C211.2 749.6 204.3 753.4 198.5 755.6 C192.7 757.8 183.7 760.5 178 761.6 C172.3 762.7 163.7 763 160.5 762.8 C157.3 762.6 156.1 763.2 157 760 Z" stroke="#333333" stroke-width="1.1" fill="none" />
<path d="M191.5 744 Q190.5 733 198 729.5 Q208 727 211.5 733 Q213 739.5 206 743.5 Q199 746.5 196 743 Z" stroke="#333333" stroke-width="1.43" fill="none" />
<line x1="202.2" y1="699.5" x2="202.2" y2="733" stroke="#6a6a6a" stroke-width="1.87" />
<line x1="169.5" y1="746" x2="169.5" y2="757" stroke="#333333" stroke-width="1.54" />
<line x1="174.9" y1="742" x2="174.9" y2="754.5" stroke="#333333" stroke-width="1.54" />
<line x1="183" y1="740" x2="183" y2="752" stroke="#333333" stroke-width="1.54" />
<line x1="188.5" y1="737" x2="188.5" y2="749.5" stroke="#333333" stroke-width="1.54" />
<path d="M163 752.5 L169.5 746 L174.9 742 L174.9 738" stroke="#333333" stroke-width="1.21" fill="none" />
<path d="M163 752.5 L169.5 757 L183 752 L188.5 749.5 L191.5 744" stroke="#333333" stroke-width="1.21" fill="none" />
<path d="M174.9 742 L183 740" stroke="#333333" stroke-width="1.21" fill="none" />
<path d="M183 740 L188.5 737" stroke="#333333" stroke-width="1.21" fill="none" />
<path d="M207.6 719.2 L213 716.5 L237 728.2 L233.5 731.2 Z" stroke="#333333" stroke-width="1.43" fill="none" />
<path d="M213 722 L229.5 730.5" stroke="#333333" stroke-width="1.1" fill="none" />
<path d="M236 729 L240.5 723 Q243 718.5 247.5 718 Q251.5 716.5 252 713" stroke="#333333" stroke-width="1.43" fill="none" />
<line x1="252" y1="705.6" x2="252" y2="715.6" stroke="#333333" stroke-width="1.76" />
<path d="M239.5 726.5 Q241.5 730 246 727.5" stroke="#333333" stroke-width="1.1" fill="none" />
<path d="M206.7 712.5 Q209 707.5 217 706.8 Q226.5 706 227.5 710.5 Q226.5 715 219.5 716.5 Q214 715 210.5 716.2 Q207 716 206.7 712.5 Z" stroke="#333333" stroke-width="1.43" fill="none" />
<path d="M212 712.5 Q217 716.5 222 713.5" stroke="#333333" stroke-width="1.1" fill="none" />
<ellipse cx="166.8" cy="740" rx="2.3" ry="1.6" stroke="#333333" stroke-width="1.21" fill="#efefef" />
<ellipse cx="177.3" cy="736.4" rx="2.3" ry="1.6" stroke="#333333" stroke-width="1.21" fill="#efefef" />
<ellipse cx="163.1" cy="746.6" rx="2.3" ry="1.6" stroke="#333333" stroke-width="1.21" fill="#efefef" />
<ellipse cx="159.3" cy="760.3" rx="2.3" ry="1.6" stroke="#333333" stroke-width="1.21" fill="#efefef" />
<ellipse cx="182.2" cy="757.3" rx="2.3" ry="1.6" stroke="#333333" stroke-width="1.21" fill="#efefef" />
<ellipse cx="193" cy="755.5" rx="2.3" ry="1.6" stroke="#333333" stroke-width="1.21" fill="#efefef" />
<ellipse cx="198.5" cy="749.1" rx="2.3" ry="1.6" stroke="#333333" stroke-width="1.21" fill="#efefef" />
<ellipse cx="223.9" cy="735.5" rx="2.3" ry="1.6" stroke="#333333" stroke-width="1.21" fill="#efefef" />
<ellipse cx="246.5" cy="725.5" rx="2.3" ry="1.6" stroke="#333333" stroke-width="1.21" fill="#efefef" />
<ellipse cx="255.6" cy="720.6" rx="2.3" ry="1.6" stroke="#333333" stroke-width="1.21" fill="#efefef" />
<ellipse cx="228.8" cy="705" rx="2.3" ry="1.6" stroke="#333333" stroke-width="1.21" fill="#efefef" />
<ellipse cx="209.4" cy="713.8" rx="2.3" ry="1.6" stroke="#333333" stroke-width="1.21" fill="#efefef" />
<ellipse cx="243" cy="703.5" rx="2.3" ry="1.6" stroke="#333333" stroke-width="1.21" fill="#efefef" />
<line x1="202.2" y1="773.5" x2="202.2" y2="850" stroke="#333333" stroke-width="1.1" stroke-dasharray="2.5 2.5"/>
<line x1="134" y1="766" x2="179" y2="789" stroke="#333333" stroke-width="1.1" stroke-dasharray="3 2.5"/>
<path d="M176.5 791.5 L180 789.5 L181.5 793.5" stroke="#333333" stroke-width="0.99" fill="none" />
<line x1="169" y1="900.3" x2="192.5" y2="886.5" stroke="#333333" stroke-width="1.1" stroke-dasharray="3 2.5"/>
<path d="M190 884 L193.5 886 L192 889.5" stroke="#333333" stroke-width="0.99" fill="none" />
<path d="M134.3 704.8 L134.3 690 L140.7 690 L140.7 703.4" stroke="#efefef" stroke-width="0.0" fill="#efefef" />
<line x1="134.3" y1="690" x2="134.3" y2="704.3" stroke="#333333" stroke-width="1.43" />
<line x1="140.7" y1="690" x2="140.7" y2="703" stroke="#333333" stroke-width="1.43" />
<!-- 9 bolts & 10 washers -->
<path d="M91.5 738.6 L98 741 L97 744.6 L90.5 742.4 Z" stroke="#333333" stroke-width="1.32" fill="#efefef" />
<line x1="93.8" y1="739.6" x2="93" y2="742.8" stroke="#333333" stroke-width="1.1" />
<line x1="95.8" y1="740.4" x2="95" y2="743.6" stroke="#333333" stroke-width="1.1" />
<ellipse cx="87.3" cy="738" rx="5.3" ry="6" stroke="#333333" stroke-width="1.65" fill="#efefef" transform="rotate(-20 87.3 738)" />
<ellipse cx="86.6" cy="737.6" rx="3.3" ry="4" stroke="#333333" stroke-width="1.32" fill="#d0d0d0" transform="rotate(-20 86.6 737.6)" />
<line x1="85" y1="735.2" x2="88.2" y2="740" stroke="#333333" stroke-width="0.99" />
<ellipse cx="104.2" cy="746.8" rx="4.2" ry="6.1" stroke="#333333" stroke-width="1.54" fill="#efefef" transform="rotate(25 104.2 746.8)" />
<ellipse cx="104" cy="746.9" rx="1.8" ry="3" stroke="#333333" stroke-width="1.1" fill="none" transform="rotate(25 104 746.9)" />
<line x1="105.5" y1="748.2" x2="127.9" y2="760.7" stroke="#333333" stroke-width="1.32" />
<path d="M137 917.6 L143 913.6 L145 916.8 L139 921 Z" stroke="#333333" stroke-width="1.32" fill="#efefef" />
<ellipse cx="143.2" cy="915.6" rx="1.7" ry="2.2" stroke="#333333" stroke-width="1.1" fill="#efefef" transform="rotate(35 143.2 915.6)" />
<line x1="139.6" y1="916" x2="141.4" y2="919" stroke="#333333" stroke-width="0.99" />
<ellipse cx="133.9" cy="921.2" rx="5.2" ry="5.9" stroke="#333333" stroke-width="1.65" fill="#efefef" transform="rotate(30 133.9 921.2)" />
<ellipse cx="133.2" cy="921.8" rx="3.2" ry="3.9" stroke="#333333" stroke-width="1.32" fill="#d0d0d0" transform="rotate(30 133.2 921.8)" />
<line x1="131.5" y1="919.5" x2="135.5" y2="923.5" stroke="#333333" stroke-width="0.99" />
<ellipse cx="153" cy="910.8" rx="4.6" ry="4.9" stroke="#333333" stroke-width="1.54" fill="#efefef" />
<ellipse cx="153" cy="910.8" rx="2.1" ry="2.4" stroke="#333333" stroke-width="1.1" fill="none" />
<line x1="156.9" y1="908" x2="168" y2="900.8" stroke="#333333" stroke-width="1.32" />
<!-- FWD arrow -->
<path d="M49.3 913.9 L65.6 888.6 L68.3 890 L69.8 893.4 L93.7 880.3 L98.1 882.7 L98.1 901.7 L69.8 917.9 L69.3 925.7 Z" stroke="#333333" stroke-width="1.54" fill="#efefef" />
<path d="M52.7 914.6 L67.2 891.5" stroke="#333333" stroke-width="1.21" fill="none" />
<path d="M69.3 925.7 L69.3 897.8 L96.3 884.6 L96.5 902.5" stroke="#333333" stroke-width="1.21" fill="none" />
<line x1="96.3" y1="884.6" x2="93.7" y2="880.3" stroke="#333333" stroke-width="1.1" />
<text transform="matrix(1 -0.52 -0.14 1 67.6 917.2)" x="0" y="0" font-size="18.5" font-weight="bold" textLength="28" lengthAdjust="spacingAndGlyphs" fill="#111" stroke="#111" stroke-width="0.8">FWD</text>
<!-- 46, 45 o-rings -->
<ellipse cx="503.9" cy="467.9" rx="12.4" ry="21.5" stroke="#333333" stroke-width="2.53" fill="none" transform="rotate(-30 503.9 467.9)" />
<ellipse cx="475.7" cy="484.8" rx="11.5" ry="20" stroke="#333333" stroke-width="2.53" fill="none" transform="rotate(-30 475.7 484.8)" />
<!-- 42 bearing -->
<ellipse cx="452.6" cy="497.8" rx="10.1" ry="17.5" stroke="#333333" stroke-width="1.43" fill="#efefef" transform="rotate(-30 452.6 497.8)" />
<path d="M443.9 482.6 L437.4 486.3 L454.9 516.7 L461.4 513" stroke="#333333" stroke-width="1.32" fill="#efefef" />
<ellipse cx="446.2" cy="501.5" rx="10.1" ry="17.5" stroke="#333333" stroke-width="1.54" fill="#efefef" transform="rotate(-30 446.2 501.5)" />
<ellipse cx="446.4" cy="501.5" rx="8.4" ry="14.6" stroke="#333333" stroke-width="1.21" fill="none" transform="rotate(-30 446.4 501.5)" />
<ellipse cx="446.5" cy="501.4" rx="7" ry="12.2" stroke="#333333" stroke-width="1.21" fill="none" transform="rotate(-30 446.5 501.4)" />
<ellipse cx="446.5" cy="501.4" rx="5.5" ry="9.6" stroke="#3a3a3a" stroke-width="2.2" fill="#d8d8d8" transform="rotate(-30 446.5 501.4)" />
<ellipse cx="446.6" cy="501.3" rx="3.7" ry="6.4" stroke="#333333" stroke-width="1.43" fill="#efefef" transform="rotate(-30 446.6 501.3)" />
<ellipse cx="446.8" cy="501.2" rx="2.1" ry="3.6" stroke="#333333" stroke-width="1.21" fill="none" transform="rotate(-30 446.8 501.2)" />
<!-- 33 washer -->
<ellipse cx="426" cy="512.9" rx="6.7" ry="11.6" stroke="#333333" stroke-width="1.43" fill="#efefef" transform="rotate(-30 426 512.9)" />
<ellipse cx="426" cy="512.9" rx="4.7" ry="8.2" stroke="#333333" stroke-width="1.32" fill="none" transform="rotate(-30 426 512.9)" />
<!-- 32 forward gear -->
<path d="M405 516.5 L411.5 513.8 Q417.8 516.5 417.4 523.5 Q416.8 530 412 533.2 L407 535.5 Z" stroke="#333333" stroke-width="1.43" fill="#efefef" />
<path d="M411.5 513.8 Q407.5 520 412 533.2" stroke="#333333" stroke-width="1.1" fill="none" />
<ellipse cx="400.5" cy="527.6" rx="12.1" ry="21" stroke="#333333" stroke-width="1.54" fill="#efefef" transform="rotate(-30 400.5 527.6)" />
<line x1="410.8" y1="521.7" x2="403.5" y2="525.8" stroke="#333333" stroke-width="1.65" />
<line x1="413" y1="526.1" x2="405.2" y2="529.4" stroke="#333333" stroke-width="1.65" />
<line x1="414.4" y1="530.6" x2="406.4" y2="533" stroke="#333333" stroke-width="1.65" />
<line x1="415" y1="535" x2="406.9" y2="536.5" stroke="#333333" stroke-width="1.65" />
<line x1="414.8" y1="538.9" x2="406.7" y2="539.7" stroke="#333333" stroke-width="1.65" />
<line x1="413.8" y1="542.2" x2="405.9" y2="542.3" stroke="#333333" stroke-width="1.65" />
<line x1="412" y1="544.6" x2="404.4" y2="544.3" stroke="#333333" stroke-width="1.65" />
<line x1="409.5" y1="546" x2="402.4" y2="545.4" stroke="#333333" stroke-width="1.65" />
<line x1="406.5" y1="546.4" x2="400" y2="545.7" stroke="#333333" stroke-width="1.65" />
<line x1="403.1" y1="545.7" x2="397.3" y2="545.2" stroke="#333333" stroke-width="1.65" />
<line x1="399.6" y1="543.9" x2="394.5" y2="543.7" stroke="#333333" stroke-width="1.65" />
<line x1="396.2" y1="541.2" x2="391.7" y2="541.5" stroke="#333333" stroke-width="1.65" />
<line x1="393" y1="537.6" x2="389.1" y2="538.7" stroke="#333333" stroke-width="1.65" />
<line x1="390.2" y1="533.5" x2="386.9" y2="535.4" stroke="#333333" stroke-width="1.65" />
<line x1="388" y1="529.1" x2="385.2" y2="531.8" stroke="#333333" stroke-width="1.65" />
<line x1="386.6" y1="524.6" x2="384" y2="528.2" stroke="#333333" stroke-width="1.65" />
<line x1="386" y1="520.2" x2="383.5" y2="524.7" stroke="#333333" stroke-width="1.65" />
<line x1="386.2" y1="516.3" x2="383.7" y2="521.5" stroke="#333333" stroke-width="1.65" />
<line x1="387.2" y1="513" x2="384.5" y2="518.9" stroke="#333333" stroke-width="1.65" />
<line x1="389" y1="510.6" x2="386" y2="516.9" stroke="#333333" stroke-width="1.65" />
<line x1="391.5" y1="509.2" x2="388" y2="515.8" stroke="#333333" stroke-width="1.65" />
<line x1="394.5" y1="508.8" x2="390.4" y2="515.5" stroke="#333333" stroke-width="1.65" />
<line x1="397.9" y1="509.5" x2="393.1" y2="516" stroke="#333333" stroke-width="1.65" />
<line x1="401.4" y1="511.3" x2="395.9" y2="517.5" stroke="#333333" stroke-width="1.65" />
<line x1="404.8" y1="514" x2="398.7" y2="519.7" stroke="#333333" stroke-width="1.65" />
<line x1="408" y1="517.6" x2="401.3" y2="522.5" stroke="#333333" stroke-width="1.65" />
<ellipse cx="395.2" cy="530.6" rx="9.6" ry="16.6" stroke="#333333" stroke-width="1.65" fill="#efefef" transform="rotate(-30 395.2 530.6)" />
<ellipse cx="395.4" cy="530.5" rx="7.6" ry="13.2" stroke="#333333" stroke-width="1.1" fill="none" transform="rotate(-30 395.4 530.5)" />
<ellipse cx="396.6" cy="530" rx="5" ry="8.6" stroke="#333333" stroke-width="1.65" fill="#efefef" transform="rotate(-30 396.6 530)" />
<ellipse cx="397.6" cy="529.5" rx="3.5" ry="6" stroke="#333333" stroke-width="1.21" fill="none" transform="rotate(-30 397.6 529.5)" />
<!-- 34 clip -->
<ellipse cx="374.4" cy="542.5" rx="4.6" ry="8" stroke="#333333" stroke-width="2.42" fill="#efefef" transform="rotate(-30 374.4 542.5)" />
<ellipse cx="375.2" cy="542" rx="2.8" ry="4.8" stroke="#333333" stroke-width="1.21" fill="none" transform="rotate(-30 375.2 542)" />
<line x1="370.4" y1="547.6" x2="374.6" y2="544.5" stroke="#333333" stroke-width="1.32" />
<!-- 41 bearing housing -->
<path d="M556 414 C556.5 406.3 557.3 410.5 558.5 409.5 C559.7 408.5 562.2 407.2 563.8 407.3 C565.4 407.4 566.9 408 569 410.5 C571.1 413 575.4 420 577.5 424 C579.6 428 582.4 433.9 583.3 437 C584.2 440.1 584.3 442.2 583.6 444.5 C582.9 446.8 580.4 450 578.5 452.5 C576.6 455 572.8 458.7 571 461 C569.2 463.3 568 466.7 566.5 468 C565 469.3 562.5 469.7 561 469.5 C559.5 469.3 557.4 467.8 556.5 466.5 C555.6 465.2 555.1 468.9 555 461 C554.9 453.1 555.5 421.7 556 414 Z" stroke="#333333" stroke-width="1.43" fill="#efefef" />
<path d="M566.5 412.5 C567.8 414.8 572.2 421.7 574.5 426 C576.8 430.3 579.1 435.4 580 438.5 C580.9 441.6 580.8 442.4 580 444.5 C579.2 446.6 577.5 448.4 575.5 451 C573.5 453.6 569.2 458.5 568 460" stroke="#333333" stroke-width="1.1" fill="none" />
<ellipse cx="562.5" cy="414.3" rx="2.4" ry="2.9" stroke="#333333" stroke-width="1.21" fill="none" transform="rotate(-30 562.5 414.3)" />
<ellipse cx="561" cy="463.6" rx="2.4" ry="2.9" stroke="#333333" stroke-width="1.21" fill="none" transform="rotate(-30 561 463.6)" />
<ellipse cx="571" cy="436.5" rx="10.1" ry="17.5" stroke="#333333" stroke-width="1.21" fill="#efefef" transform="rotate(-30 571 436.5)" />
<ellipse cx="568.5" cy="438" rx="10.1" ry="17.5" stroke="#333333" stroke-width="1.21" fill="#efefef" transform="rotate(-30 568.5 438)" />
<ellipse cx="566" cy="439.5" rx="10.1" ry="17.5" stroke="#333333" stroke-width="1.21" fill="#efefef" transform="rotate(-30 566 439.5)" />
<ellipse cx="563.5" cy="441" rx="10.1" ry="17.5" stroke="#333333" stroke-width="1.21" fill="#efefef" transform="rotate(-30 563.5 441)" />
<ellipse cx="561" cy="442.5" rx="8.7" ry="15" stroke="#333333" stroke-width="1.32" fill="#efefef" transform="rotate(-30 561 442.5)" />
<path d="M553.5 429.5 L528.5 444 L543.5 470 L568.5 455.5" stroke="#333333" stroke-width="1.32" fill="#efefef" />
<path d="M553.5 429.5 L528.5 444" stroke="#333333" stroke-width="1.32" fill="none" />
<path d="M568.5 455.5 L543.5 470" stroke="#333333" stroke-width="1.32" fill="none" />
<path d="M546 430 Q551 425.5 556 427" stroke="#333333" stroke-width="1.1" fill="none" />
<ellipse cx="538.2" cy="452.2" rx="13" ry="22.5" stroke="#333333" stroke-width="1.43" fill="#efefef" transform="rotate(-30 538.2 452.2)" />
<ellipse cx="535.6" cy="453.7" rx="13" ry="22.5" stroke="#333333" stroke-width="1.32" fill="#efefef" transform="rotate(-30 535.6 453.7)" />
<ellipse cx="533" cy="455.2" rx="13" ry="22.5" stroke="#333333" stroke-width="1.43" fill="#efefef" transform="rotate(-30 533 455.2)" />
<ellipse cx="532.2" cy="455.7" rx="9.8" ry="17" stroke="#333333" stroke-width="1.43" fill="none" transform="rotate(-30 532.2 455.7)" />
<path d="M524.7 440.7 C525.3 440.3 527 438.9 528.5 438.8 C530 438.7 531.8 439.1 533.4 439.9 C535.1 440.7 537 442 538.6 443.6 C540.2 445.2 541.8 447.3 543 449.4 C544.2 451.5 545.2 453.9 545.8 456.1 C546.4 458.2 546.6 460.6 546.5 462.4 C546.3 464.3 545.8 466 544.9 467.3 C544.1 468.5 542 469.3 541.4 469.7" stroke="#333333" stroke-width="1.1" fill="none" />
<line x1="537" y1="452" x2="541.5" y2="462" stroke="#333333" stroke-width="1.1" />
<!-- 43 bushing -->
<ellipse cx="593.8" cy="415.2" rx="5.5" ry="9.6" stroke="#333333" stroke-width="1.43" fill="#efefef" transform="rotate(-30 593.8 415.2)" />
<path d="M589 406.9 L582.2 410.9 L591.8 427.5 L598.6 423.5" stroke="#333333" stroke-width="1.32" fill="#efefef" />
<ellipse cx="587" cy="419.2" rx="5.5" ry="9.6" stroke="#333333" stroke-width="1.54" fill="#efefef" transform="rotate(-30 587 419.2)" />
<ellipse cx="587.4" cy="419" rx="3.7" ry="6.4" stroke="#333333" stroke-width="1.32" fill="#ddd" transform="rotate(-30 587.4 419)" />
<!-- 44 seals -->
<ellipse cx="614.2" cy="404.9" rx="6.5" ry="11.3" stroke="#333333" stroke-width="1.43" fill="#efefef" transform="rotate(-30 614.2 404.9)" />
<ellipse cx="611.8" cy="406.3" rx="6.5" ry="11.3" stroke="#333333" stroke-width="1.54" fill="#efefef" transform="rotate(-30 611.8 406.3)" />
<ellipse cx="612.1" cy="406.3" rx="3.9" ry="6.8" stroke="#333333" stroke-width="1.43" fill="none" transform="rotate(-30 612.1 406.3)" />
<ellipse cx="613.1" cy="405.8" rx="2.9" ry="5" stroke="#333333" stroke-width="0.99" fill="none" transform="rotate(-30 613.1 405.8)" />
<ellipse cx="633.6" cy="394.8" rx="6.5" ry="11.3" stroke="#333333" stroke-width="1.43" fill="#efefef" transform="rotate(-30 633.6 394.8)" />
<ellipse cx="631.2" cy="396.2" rx="6.5" ry="11.3" stroke="#333333" stroke-width="1.54" fill="#efefef" transform="rotate(-30 631.2 396.2)" />
<ellipse cx="631.5" cy="396.2" rx="3.9" ry="6.8" stroke="#333333" stroke-width="1.43" fill="none" transform="rotate(-30 631.5 396.2)" />
<ellipse cx="632.5" cy="395.7" rx="2.9" ry="5" stroke="#333333" stroke-width="0.99" fill="none" transform="rotate(-30 632.5 395.7)" />
<!-- 47 bolt, 48 washer -->
<g transform="rotate(-25 559 381.5)">
<path d="M549.5 378.6 L561 378.6 L561 384.4 L549.5 384.4 Z" stroke="#333333" stroke-width="1.21" fill="#efefef" />
<line x1="551" y1="378.6" x2="551" y2="384.4" stroke="#333333" stroke-width="1.21" />
<line x1="553.1" y1="378.6" x2="553.1" y2="384.4" stroke="#333333" stroke-width="1.21" />
<line x1="555.2" y1="378.6" x2="555.2" y2="384.4" stroke="#333333" stroke-width="1.21" />
<line x1="557.3" y1="378.6" x2="557.3" y2="384.4" stroke="#333333" stroke-width="1.21" />
<line x1="559.4" y1="378.6" x2="559.4" y2="384.4" stroke="#333333" stroke-width="1.21" />
<path d="M561 376.5 L566.5 376.5 Q568.6 381.5 566.5 386.5 L561 386.5 Z" stroke="#333333" stroke-width="1.43" fill="#efefef" />
<line x1="563" y1="376.5" x2="563" y2="386.5" stroke="#333333" stroke-width="1.1" />
</g>
<ellipse cx="544.6" cy="391.6" rx="3.1" ry="5.4" stroke="#333333" stroke-width="1.32" fill="#efefef" transform="rotate(-30 544.6 391.6)" />
<ellipse cx="542.9" cy="390.2" rx="3.1" ry="5.4" stroke="#333333" stroke-width="1.54" fill="#efefef" transform="rotate(-30 542.9 390.2)" />
<ellipse cx="543.3" cy="390" rx="1.5" ry="2.6" stroke="#333333" stroke-width="1.43" fill="#bbb" transform="rotate(-30 543.3 390)" />
<!-- seal symbol circle (44) -->
<ellipse cx="576" cy="321.4" rx="31.2" ry="31.2" stroke="#333333" stroke-width="1.43" fill="#efefef" />
<g transform="rotate(-28.5 579.5 327.5)">
<path d="M561 321 L598 321 L598 334 L561 334 Z" stroke="#333333" stroke-width="1.32" fill="#efefef" />
<line x1="561" y1="331" x2="598" y2="331" stroke="#333333" stroke-width="0.99" />
<ellipse cx="561.8" cy="326" rx="1.8" ry="3.2" stroke="#333333" stroke-width="1.1" fill="#efefef" />
<ellipse cx="597.5" cy="325" rx="1.8" ry="3.2" stroke="#333333" stroke-width="1.1" fill="#efefef" />
<path d="M563 301.5 L575.2 301.5 L575.2 305.6 L567.6 305.6 L567.6 316.6 L571.4 316.6 L571.4 312.6 L575.6 312.6 L575.6 319 L573 321 L563 321 Z" stroke="#111" stroke-width="0.66" fill="#111" />
<path d="M571.4 318.6 L574 316 L574.4 319 Z" stroke="#efefef" stroke-width="0.55" fill="#efefef" />
<path d="M578.2 301.5 L590.4000000000001 301.5 L590.4000000000001 305.6 L582.8000000000001 305.6 L582.8000000000001 316.6 L586.6 316.6 L586.6 312.6 L590.8000000000001 312.6 L590.8000000000001 319 L588.2 321 L578.2 321 Z" stroke="#111" stroke-width="0.66" fill="#111" />
<path d="M586.6 318.6 L589.2 316 L589.6 319 Z" stroke="#efefef" stroke-width="0.55" fill="#efefef" />
</g>
<!-- 6,5,7 washers / 29 pinion / 30 nut -->
<line x1="455.9" y1="609" x2="455.9" y2="621" stroke="#333333" stroke-width="1.43" />
<ellipse cx="455.9" cy="623.2" rx="10.7" ry="5.4" stroke="#333333" stroke-width="1.43" fill="#efefef" />
<ellipse cx="455.9" cy="622.2" rx="10.7" ry="5.4" stroke="#333333" stroke-width="1.43" fill="#efefef" />
<ellipse cx="455.9" cy="622.4" rx="6.5" ry="3.1" stroke="#333333" stroke-width="1.98" fill="#bdbdbd" />
<ellipse cx="455.9" cy="622.4" rx="3.2" ry="1.5" stroke="#333333" stroke-width="0.99" fill="#efefef" />
<line x1="455.9" y1="614" x2="455.9" y2="621.5" stroke="#333333" stroke-width="1.43" />
<ellipse cx="455.9" cy="641.2" rx="10.5" ry="5.3" stroke="#333333" stroke-width="1.43" fill="#efefef" />
<ellipse cx="455.9" cy="640" rx="10.5" ry="5.3" stroke="#333333" stroke-width="1.54" fill="#efefef" />
<ellipse cx="455.9" cy="640" rx="6.3" ry="3" stroke="#333333" stroke-width="1.98" fill="#c6c6c6" />
<ellipse cx="455.9" cy="640" rx="3.4" ry="1.5" stroke="#333333" stroke-width="0.99" fill="#efefef" />
<ellipse cx="455.9" cy="655.2" rx="10.5" ry="5" stroke="#333333" stroke-width="1.32" fill="#efefef" />
<ellipse cx="455.9" cy="655.2" rx="5.6" ry="2.6" stroke="#333333" stroke-width="1.21" fill="none" />
<path d="M444 669 L444 675 L446.5 681.5 Q455.9 687 465.3 681.5 L467.8 675 L467.8 669" stroke="#333333" stroke-width="1.43" fill="#efefef" />
<path d="M444 675 Q455.9 682.5 467.8 675" stroke="#333333" stroke-width="1.21" fill="none" />
<line x1="447.5" y1="678.6" x2="447.5" y2="683.2" stroke="#333333" stroke-width="1.1" />
<line x1="449.6" y1="679" x2="449.6" y2="683.5" stroke="#333333" stroke-width="1.1" />
<line x1="451.7" y1="679.3" x2="451.7" y2="683.8" stroke="#333333" stroke-width="1.1" />
<line x1="453.8" y1="679.6" x2="453.8" y2="684.1" stroke="#333333" stroke-width="1.1" />
<line x1="455.9" y1="680" x2="455.9" y2="684.4" stroke="#333333" stroke-width="1.1" />
<line x1="458" y1="679.6" x2="458" y2="684.1" stroke="#333333" stroke-width="1.1" />
<line x1="460.1" y1="679.3" x2="460.1" y2="683.8" stroke="#333333" stroke-width="1.1" />
<line x1="462.2" y1="679" x2="462.2" y2="683.5" stroke="#333333" stroke-width="1.1" />
<line x1="464.3" y1="678.6" x2="464.3" y2="683.2" stroke="#333333" stroke-width="1.1" />
<ellipse cx="455.9" cy="668.8" rx="11.9" ry="5.6" stroke="#333333" stroke-width="1.54" fill="#efefef" />
<ellipse cx="455.9" cy="668.6" rx="7.6" ry="3.5" stroke="#333333" stroke-width="1.76" fill="#c2c2c2" />
<ellipse cx="455.9" cy="668.6" rx="4.2" ry="1.9" stroke="#333333" stroke-width="1.1" fill="#efefef" />
<line x1="455.9" y1="660.5" x2="455.9" y2="666.5" stroke="#666" stroke-width="1.1" />
<path d="M450 691.5 L450 696.5 L453 699.3 L459 699.3 L461.8 696.5 L461.8 691.5 L459 689 L453 689 Z" stroke="#333333" stroke-width="1.54" fill="#d0d0d0" />
<ellipse cx="455.9" cy="691.8" rx="3.4" ry="1.8" stroke="#333333" stroke-width="1.21" fill="#efefef" />
<line x1="453" y1="694.5" x2="453" y2="699" stroke="#333333" stroke-width="0.99" />
<line x1="459" y1="694.5" x2="459" y2="699" stroke="#333333" stroke-width="0.99" />
<!-- 49 shim ring -->
<ellipse cx="373.8" cy="768" rx="10.7" ry="18.6" stroke="#333333" stroke-width="1.43" fill="none" transform="rotate(-30 373.8 768)" />
<ellipse cx="374.4" cy="767.7" rx="9" ry="15.6" stroke="#333333" stroke-width="1.32" fill="none" transform="rotate(-30 374.4 767.7)" />
<!-- 8 bearing -->
<ellipse cx="403.8" cy="748.7" rx="10.8" ry="18.7" stroke="#333333" stroke-width="1.43" fill="#efefef" transform="rotate(-30 403.8 748.7)" />
<path d="M394.4 732.5 L387.4 736.5 L406.2 768.9 L413.2 764.9" stroke="#333333" stroke-width="1.32" fill="#efefef" />
<ellipse cx="396.8" cy="752.7" rx="10.8" ry="18.7" stroke="#333333" stroke-width="1.54" fill="#efefef" transform="rotate(-30 396.8 752.7)" />
<ellipse cx="397.1" cy="752.6" rx="9" ry="15.6" stroke="#333333" stroke-width="1.21" fill="none" transform="rotate(-30 397.1 752.6)" />
<ellipse cx="397.4" cy="752.5" rx="7.3" ry="12.6" stroke="#333333" stroke-width="1.21" fill="none" transform="rotate(-30 397.4 752.5)" />
<ellipse cx="397.4" cy="752.5" rx="5.8" ry="10" stroke="#3a3a3a" stroke-width="2.42" fill="#d6d6d6" transform="rotate(-30 397.4 752.5)" />
<ellipse cx="397.6" cy="752.4" rx="3.6" ry="6.2" stroke="#333333" stroke-width="1.43" fill="#efefef" transform="rotate(-30 397.6 752.4)" />
<ellipse cx="398.2" cy="752.1" rx="2.4" ry="4.2" stroke="#333333" stroke-width="0.99" fill="none" transform="rotate(-30 398.2 752.1)" />
<!-- 31 reverse gear -->
<ellipse cx="436.8" cy="729.2" rx="11.8" ry="20.5" stroke="#333333" stroke-width="1.43" fill="#efefef" transform="rotate(-30 436.8 729.2)" />
<path d="M426.6 711.4 L423.8 713 L444.2 748.6 L447.1 747" stroke="#333333" stroke-width="1.32" fill="#efefef" />
<ellipse cx="434" cy="730.8" rx="11.8" ry="20.5" stroke="#333333" stroke-width="1.54" fill="#efefef" transform="rotate(-30 434 730.8)" />
<ellipse cx="433.4" cy="731.2" rx="8.7" ry="15" stroke="#333333" stroke-width="1.21" fill="none" transform="rotate(-30 433.4 731.2)" />
<ellipse cx="431.5" cy="733.2" rx="6.9" ry="12" stroke="#333333" stroke-width="1.32" fill="#efefef" transform="rotate(-30 431.5 733.2)" />
<path d="M425.5 722.8 L422.5 724.6 L434.5 745.4 L437.5 743.6" stroke="#333333" stroke-width="1.21" fill="#efefef" />
<ellipse cx="428.5" cy="735" rx="6.9" ry="12" stroke="#333333" stroke-width="1.32" fill="#efefef" transform="rotate(-30 428.5 735)" />
<line x1="422.5" y1="724.6" x2="425.5" y2="722.9" stroke="#333333" stroke-width="0.99" />
<line x1="426.3" y1="724.3" x2="429.3" y2="722.6" stroke="#333333" stroke-width="0.99" />
<line x1="430.7" y1="726.8" x2="433.7" y2="725.1" stroke="#333333" stroke-width="0.99" />
<line x1="434.5" y1="731.5" x2="437.5" y2="729.8" stroke="#333333" stroke-width="0.99" />
<line x1="436.7" y1="737.2" x2="439.7" y2="735.5" stroke="#333333" stroke-width="0.99" />
<line x1="436.7" y1="742.3" x2="439.7" y2="740.6" stroke="#333333" stroke-width="0.99" />
<line x1="434.5" y1="745.4" x2="437.5" y2="743.7" stroke="#333333" stroke-width="0.99" />
<path d="M424.2 727.6 L418.7 730.9 L427.3 745.7 L432.8 742.4" stroke="#333333" stroke-width="1.32" fill="#efefef" />
<line x1="424.2" y1="727.6" x2="418.7" y2="730.9" stroke="#333333" stroke-width="1.43" />
<line x1="432.8" y1="742.4" x2="427.3" y2="745.7" stroke="#333333" stroke-width="1.43" />
<ellipse cx="423" cy="738.3" rx="5" ry="8.6" stroke="#333333" stroke-width="1.54" fill="#efefef" transform="rotate(-30 423 738.3)" />
<ellipse cx="423.5" cy="738" rx="3.2" ry="5.6" stroke="#333333" stroke-width="1.43" fill="#e4e4e4" transform="rotate(-30 423.5 738)" />
<!-- 36 pin -->
<line x1="451.5" y1="720.3" x2="470.8" y2="711.2" stroke="#333333" stroke-width="6.4" stroke-linecap="round"/>
<line x1="451.5" y1="720.3" x2="470.8" y2="711.2" stroke="#efefef" stroke-width="3.8" stroke-linecap="round"/>
<ellipse cx="451.3" cy="720.4" rx="1.7" ry="2.6" stroke="#333333" stroke-width="0.99" fill="none" transform="rotate(-25 451.3 720.4)" />
<!-- 37 dog clutch -->
<ellipse cx="494" cy="694.4" rx="8.1" ry="14" stroke="#333333" stroke-width="1.43" fill="#efefef" transform="rotate(-30 494 694.4)" />
<path d="M487 682.3 L476.8 688.2 L490.8 712.4 L501 706.5" stroke="#333333" stroke-width="1.32" fill="#efefef" />
<line x1="487" y1="682.3" x2="476.8" y2="688.2" stroke="#333333" stroke-width="1.43" />
<line x1="501" y1="706.5" x2="490.8" y2="712.4" stroke="#333333" stroke-width="1.43" />
<ellipse cx="483.8" cy="700.3" rx="8.1" ry="14" stroke="#333333" stroke-width="1.54" fill="#efefef" transform="rotate(-30 483.8 700.3)" />
<path d="M484.8 683.8 C485.3 683.8 486.8 683.6 487.9 683.9 C489 684.2 490.2 684.7 491.4 685.5 C492.5 686.3 493.7 687.3 494.7 688.5 C495.7 689.6 496.7 691 497.5 692.4 C498.3 693.7 499 695.3 499.5 696.8 C499.9 698.2 500.3 699.7 500.4 701.1 C500.5 702.5 500.4 703.8 500.1 704.9 C499.8 706 498.9 707.2 498.6 707.6" stroke="#333333" stroke-width="1.21" fill="none" />
<path d="M479.5 688 L476.1 690 L481.6 692 L485 690 Z" stroke="#333333" stroke-width="1.43" fill="#efefef" />
<path d="M493.3 706.4 L489.9 708.4 L488 713.3 L491.4 711.3 Z" stroke="#333333" stroke-width="1.43" fill="#efefef" />
<path d="M478.6 706.5 L475.2 708.5 L471.6 701.5 L475 699.5 Z" stroke="#333333" stroke-width="1.43" fill="#efefef" />
<ellipse cx="475.3" cy="704.4" rx="1.8" ry="2.4" stroke="#333333" stroke-width="0.88" fill="#333" transform="rotate(-30 475.3 704.4)" />
<ellipse cx="485" cy="700.7" rx="5.2" ry="9" stroke="#333333" stroke-width="1.43" fill="#efefef" transform="rotate(-30 485 700.7)" />
<ellipse cx="485.8" cy="700.3" rx="3.7" ry="6.4" stroke="#333333" stroke-width="1.1" fill="none" transform="rotate(-30 485.8 700.3)" />
<line x1="488.3" y1="712.5" x2="488.3" y2="724.5" stroke="#333333" stroke-width="1.32" />
<!-- 38 pin -->
<path d="M485.7 726.4 Q488.3 723.8 490.9 726.4 L490.9 744 Q488.3 746.8 485.7 744 Z" stroke="#333333" stroke-width="1.43" fill="#efefef" />
<line x1="488.3" y1="727.5" x2="488.3" y2="743" stroke="#777" stroke-width="0.88" />
<!-- 39 ring -->
<ellipse cx="510" cy="688" rx="7.9" ry="13.7" stroke="#333333" stroke-width="1.43" fill="#efefef" transform="rotate(-30 510 688)" />
<ellipse cx="511" cy="687.5" rx="7.7" ry="13.4" stroke="#333333" stroke-width="1.1" fill="none" transform="rotate(-30 511 687.5)" />
<ellipse cx="511" cy="687.6" rx="6.1" ry="10.6" stroke="#333333" stroke-width="1.32" fill="none" transform="rotate(-30 511 687.6)" />
<!-- 40 spring -->
<line x1="523.5" y1="678.6" x2="546.8" y2="667.2" stroke="#333333" stroke-width="5.8" stroke-linecap="round"/>
<line x1="523.5" y1="678.6" x2="546.8" y2="667.2" stroke="#b4b4b4" stroke-width="3.4" stroke-linecap="round"/>
<line x1="523.5" y1="675.5" x2="525.5" y2="680.7" stroke="#333333" stroke-width="1.54" />
<line x1="525.6" y1="674.5" x2="527.6" y2="679.7" stroke="#333333" stroke-width="1.54" />
<line x1="527.8" y1="673.4" x2="529.8" y2="678.6" stroke="#333333" stroke-width="1.54" />
<line x1="530" y1="672.4" x2="532" y2="677.6" stroke="#333333" stroke-width="1.54" />
<line x1="532.1" y1="671.3" x2="534.1" y2="676.5" stroke="#333333" stroke-width="1.54" />
<line x1="534.2" y1="670.2" x2="536.2" y2="675.5" stroke="#333333" stroke-width="1.54" />
<line x1="536.4" y1="669.2" x2="538.4" y2="674.4" stroke="#333333" stroke-width="1.54" />
<line x1="538.5" y1="668.1" x2="540.5" y2="673.4" stroke="#333333" stroke-width="1.54" />
<line x1="540.7" y1="667.1" x2="542.7" y2="672.3" stroke="#333333" stroke-width="1.54" />
<line x1="542.9" y1="666" x2="544.9" y2="671.2" stroke="#333333" stroke-width="1.54" />
<line x1="545" y1="665" x2="547" y2="670.2" stroke="#333333" stroke-width="1.54" />
<ellipse cx="523.2" cy="678.8" rx="1.6" ry="2.7" stroke="#333333" stroke-width="1.1" fill="#efefef" transform="rotate(-25 523.2 678.8)" />
<!-- 35 prop shaft -->
<g transform="translate(558.3 659.1) rotate(-29.4)">
<path d="M113 -3.6 L126 -3.6 L126 3.6 L113 3.6 Z" stroke="#333333" stroke-width="1.32" fill="#efefef" />
<line x1="115" y1="-3.6" x2="115" y2="3.6" stroke="#333333" stroke-width="1.1" />
<line x1="117.1" y1="-3.6" x2="117.1" y2="3.6" stroke="#333333" stroke-width="1.1" />
<line x1="119.2" y1="-3.6" x2="119.2" y2="3.6" stroke="#333333" stroke-width="1.1" />
<line x1="121.3" y1="-3.6" x2="121.3" y2="3.6" stroke="#333333" stroke-width="1.1" />
<line x1="123.4" y1="-3.6" x2="123.4" y2="3.6" stroke="#333333" stroke-width="1.1" />
<line x1="125.5" y1="-3.6" x2="125.5" y2="3.6" stroke="#333333" stroke-width="1.1" />
<ellipse cx="126" cy="0" rx="1.5" ry="3.6" stroke="#333333" stroke-width="1.21" fill="#efefef" />
<path d="M104.5 -3.2 L113 -3.2 L113 3.2 L104.5 3.2 Z" stroke="#333333" stroke-width="1.32" fill="#efefef" />
<path d="M83 -5.6 L104.5 -4.4 L104.5 4.4 L83 5.6 Z" stroke="#333333" stroke-width="1.32" fill="#efefef" />
<line x1="84" y1="-3.5" x2="100" y2="-2.9" stroke="#444" stroke-width="1.54" />
<line x1="84" y1="-1.3" x2="100" y2="-1.1" stroke="#444" stroke-width="1.54" />
<line x1="84" y1="0.9" x2="100" y2="0.7" stroke="#444" stroke-width="1.54" />
<line x1="84" y1="3.1" x2="100" y2="2.5" stroke="#444" stroke-width="1.54" />
<path d="M100 -4.6 Q103.5 0 100 4.6" stroke="#333333" stroke-width="1.1" fill="none" />
<path d="M69 -5.3 L83 -5.3 L83 5.3 L69 5.3 Z" stroke="#333333" stroke-width="1.32" fill="#efefef" />
<path d="M33 -6 L69 -6 L69 6 L33 6 Z" stroke="#333333" stroke-width="1.32" fill="#efefef" />
<path d="M69 -6 Q71.5 0 69 6" stroke="#333333" stroke-width="1.21" fill="none" />
<path d="M9 -7.6 L33 -7.6 L33 7.6 L9 7.6 Z" stroke="#333333" stroke-width="1.32" fill="#efefef" />
<path d="M9 -7.6 Q6 0 9 7.6" stroke="#333333" stroke-width="1.32" fill="#efefef" />
<line x1="11" y1="-5" x2="29" y2="-5" stroke="#444" stroke-width="1.65" />
<line x1="11" y1="-2.2" x2="29" y2="-2.2" stroke="#444" stroke-width="1.65" />
<line x1="11" y1="0.6" x2="29" y2="0.6" stroke="#444" stroke-width="1.65" />
<line x1="11" y1="3.4" x2="29" y2="3.4" stroke="#444" stroke-width="1.65" />
<line x1="11" y1="5.8" x2="29" y2="5.8" stroke="#444" stroke-width="1.65" />
<path d="M29.5 -7.6 Q32.5 0 29.5 7.6" stroke="#333333" stroke-width="1.21" fill="none" />
<path d="M33 -7.6 Q36 0 33 7.6" stroke="#333333" stroke-width="1.21" fill="none" />
<path d="M0 -4.8 L8.5 -4.8 L8.5 4.8 L0 4.8 Z" stroke="#333333" stroke-width="1.32" fill="#efefef" />
<ellipse cx="0" cy="0" rx="2.2" ry="4.8" stroke="#333333" stroke-width="1.32" fill="#efefef" />
<ellipse cx="0.3" cy="0" rx="1" ry="2" stroke="#333333" stroke-width="0.88" fill="none" />
</g>
<!-- title box -->
<rect x="466.6" y="98.6" width="186.4" height="84.2" fill="#efefef" stroke="#9a9a9a" stroke-width="2.8"/>
<rect x="468.3" y="100.3" width="183" height="80.8" fill="none" stroke="#555" stroke-width="1"/>
<text x="517.4" y="115.8" font-size="14.6" font-weight="bold" textLength="83.2" lengthAdjust="spacingAndGlyphs" fill="#1e1e1e" xml:space="preserve">LOWER  UNIT</text>
<text x="540.5" y="138.4" font-size="14.6" font-weight="bold" textLength="33.1" lengthAdjust="spacingAndGlyphs" fill="#1e1e1e" xml:space="preserve">ASSY</text>
<text x="480" y="159.7" font-size="13" font-weight="bold" textLength="158" lengthAdjust="spacingAndGlyphs" fill="#1e1e1e" xml:space="preserve">(Fig. 23, Ref. No. 2 to 49</text>
<text x="484.3" y="173.6" font-size="13" font-weight="bold" textLength="128.9" lengthAdjust="spacingAndGlyphs" fill="#1e1e1e" xml:space="preserve">Fig. 24, Ref. No. 15)</text>
</g>
</svg>
</body></html>
